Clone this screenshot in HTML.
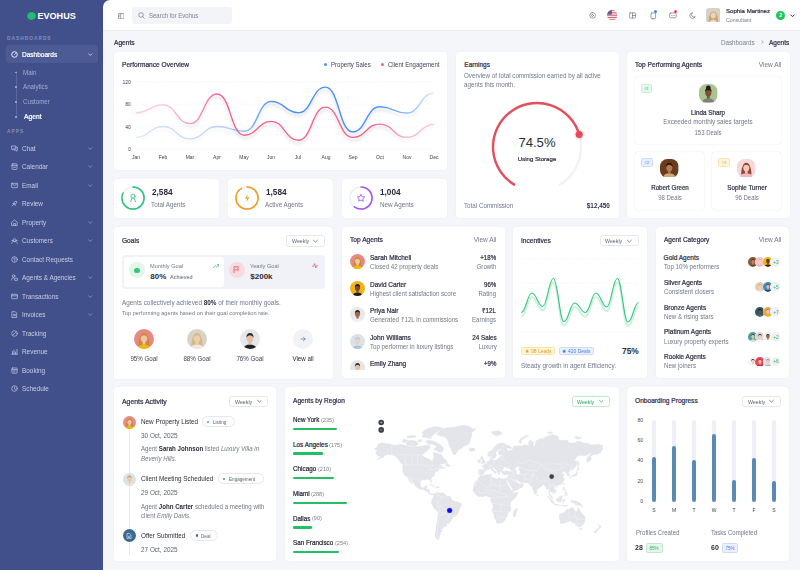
<!DOCTYPE html>
<html><head><meta charset="utf-8"><title>Evohus - Agents</title>
<style>
*{box-sizing:border-box;margin:0;padding:0}
html,body{width:800px;height:570px;overflow:hidden;background:#f5f6fa;font-family:"Liberation Sans",sans-serif;color:#2f3045}
.a{position:absolute}
.t{position:absolute;white-space:nowrap;line-height:1}
.b{font-weight:bold}
.B{font-weight:bold}
.sb{-webkit-text-stroke:.22px currentColor}
.r{text-align:right}
.card{position:absolute;background:#fff;border-radius:4px;box-shadow:0 0 2px rgba(40,50,90,.05);overflow:hidden}
#side{position:absolute;left:0;top:0;width:103px;height:570px;background:#41508a}
#side .sec{position:absolute;left:7px;font-size:4.8px;letter-spacing:1.02px;color:#858ec0;font-weight:bold;line-height:1}
#side .it{position:absolute;left:0;width:103px;height:12px}
#side .it svg.i{position:absolute;left:11px;top:2.5px;width:7px;height:7px}
#side .it .l{position:absolute;left:22.3px;top:3.5px;font-size:6.4px;line-height:1;color:#c8cde6;white-space:nowrap}
#side .it svg.c{position:absolute;left:88px;top:4.8px;width:4.5px;height:3px}
#side .sub{position:absolute;left:22.8px;font-size:6.2px;line-height:1;color:#a5acd2;white-space:nowrap}
#side .dot{position:absolute;left:15.2px;width:1.6px;height:1.6px;border-radius:50%;background:#a5acd2}
#hdr{position:absolute;left:103px;top:0;width:697px;height:31px;background:#fff;border-top-left-radius:7px;border-bottom:1px solid #eceef4}
.wk{position:absolute;border:0.6px solid #e3e5ec;border-radius:2.5px;background:#fff;font-size:4.8px;color:#5d6173;line-height:1}
.wk span{position:absolute;left:6px;top:3.2px}
.wk svg{position:absolute;right:5px;top:3.6px;width:4px;height:4px}
.gr{color:#6e7385}
.ttl{position:absolute;white-space:nowrap;line-height:1;font-weight:bold;font-size:6.1px;color:#2f3045}
</style></head>
<body>
<div id="side">
<svg class="a" style="left:27px;top:11.5px" width="9" height="8" viewBox="0 0 9 8"><ellipse cx="4.5" cy="4" rx="4.4" ry="3.9" fill="#1fb86a"/><path d="M1 5.5 L6 1 M2 7 L8 2 M4 7.6 L8.6 3.8" stroke="#3fd88a" stroke-width=".6" opacity=".6"/></svg>
<div class="t b" style="left:37.4px;top:12.2px;font-size:9.1px;color:#fff">EVOHUS</div>
<div class="sec" style="top:36.6px">DASHBOARDS</div>
<div class="a" style="left:6px;top:45.2px;width:92px;height:18.2px;background:#4d5b94;border-radius:3px"></div>
<svg class="a" style="left:11px;top:51px" width="7" height="7" viewBox="0 0 7 7"><circle cx="3.5" cy="3.5" r="2.8" fill="none" stroke="#fff" stroke-width=".9"/><path d="M3.5 3.6 L4.8 2.3" stroke="#fff" stroke-width=".9"/></svg>
<div class="t  sb" style="left:22.40px;top:52px;font-size:6.7px;transform:scaleX(0.9758);transform-origin:0 0;color:#fff">Dashboards</div>
<svg class="a" style="left:88px;top:52.5px" width="4.5" height="3" viewBox="0 0 4.5 3"><path d="M.4 .5 L2.25 2.4 L4.1 .5" fill="none" stroke="#eef0fa" stroke-width=".7"/></svg>
<div class="a" style="left:15.6px;top:71px;width:.6px;height:47px;background:#5b679e"></div>
<div class="dot" style="top:71.7px"></div>
<div class="t " style="left:22.80px;top:70px;font-size:6.8px;transform:scaleX(0.9118);transform-origin:0 0;color:#a5acd2">Main</div>
<div class="dot" style="top:86.2px"></div>
<div class="t " style="left:22.80px;top:84px;font-size:6.8px;transform:scaleX(0.9118);transform-origin:0 0;color:#a5acd2">Analytics</div>
<div class="dot" style="top:101.2px"></div>
<div class="t " style="left:22.80px;top:99px;font-size:6.8px;transform:scaleX(0.9118);transform-origin:0 0;color:#a5acd2">Customer</div>
<div class="dot" style="top:116.2px"></div>
<div class="t  sb" style="left:24.00px;top:114px;font-size:6.8px;transform:scaleX(0.9884);transform-origin:0 0;color:#fff">Agent</div>
<div class="sec" style="top:129.8px">APPS</div>
<div class="it" style="top:142.3px"><svg class="i" viewBox="0 0 7 7"><path d="M.8 1h4v3H2.5L1.4 5V4H.8z M4.8 2.2h1.6v3h-.6v1l-1.2-1H3.2V4" fill="none" stroke="#c3c9e6" stroke-width=".7" stroke-linejoin="round" stroke-linecap="round"/></svg><svg class="c" viewBox="0 0 4.5 3"><path d="M.4 .5 L2.25 2.4 L4.1 .5" fill="none" stroke="#aeb5d8" stroke-width=".6"/></svg></div>
<div class="t " style="left:22.30px;top:145px;font-size:7.0px;transform:scaleX(0.9143);transform-origin:0 0;color:#c8cde6">Chat</div>
<div class="it" style="top:160.6px"><svg class="i" viewBox="0 0 7 7"><rect x="1" y=".8" width="5" height="5.6" rx=".8" fill="none" stroke="#c3c9e6" stroke-width=".7" stroke-linejoin="round" stroke-linecap="round"/><path d="M1 2.4h5 M2.4 4.2h2.2" fill="none" stroke="#c3c9e6" stroke-width=".7" stroke-linejoin="round" stroke-linecap="round"/></svg><svg class="c" viewBox="0 0 4.5 3"><path d="M.4 .5 L2.25 2.4 L4.1 .5" fill="none" stroke="#aeb5d8" stroke-width=".6"/></svg></div>
<div class="t " style="left:22.30px;top:163px;font-size:7.0px;transform:scaleX(0.9143);transform-origin:0 0;color:#c8cde6">Calendar</div>
<div class="it" style="top:179.1px"><svg class="i" viewBox="0 0 7 7"><rect x=".6" y="1.3" width="5.8" height="4.4" rx=".3" fill="none" stroke="#c3c9e6" stroke-width=".7" stroke-linejoin="round" stroke-linecap="round"/><path d="M.8 1.6l2.7 2 2.7-2" fill="none" stroke="#c3c9e6" stroke-width=".7" stroke-linejoin="round" stroke-linecap="round"/></svg><svg class="c" viewBox="0 0 4.5 3"><path d="M.4 .5 L2.25 2.4 L4.1 .5" fill="none" stroke="#aeb5d8" stroke-width=".6"/></svg></div>
<div class="t " style="left:22.30px;top:182px;font-size:7.0px;transform:scaleX(0.9143);transform-origin:0 0;color:#c8cde6">Email</div>
<div class="it" style="top:197.6px"><svg class="i" viewBox="0 0 7 7"><path d="M1 6l1.5-1.5 M2 3.5l1.5 1.5 M3 2.5l2-1.5 1 1-1.5 2z M2.5 3.3l2.2 2.2" fill="none" stroke="#c3c9e6" stroke-width=".7" stroke-linejoin="round" stroke-linecap="round"/></svg></div>
<div class="t " style="left:22.30px;top:200px;font-size:7.0px;transform:scaleX(0.9143);transform-origin:0 0;color:#c8cde6">Review</div>
<div class="it" style="top:216.1px"><svg class="i" viewBox="0 0 7 7"><path d="M.8 3.2L3.5.9l2.7 2.3v3.2H.8z M2.6 6.4V4.5h1.8v1.9" fill="none" stroke="#c3c9e6" stroke-width=".7" stroke-linejoin="round" stroke-linecap="round"/></svg><svg class="c" viewBox="0 0 4.5 3"><path d="M.4 .5 L2.25 2.4 L4.1 .5" fill="none" stroke="#aeb5d8" stroke-width=".6"/></svg></div>
<div class="t " style="left:22.30px;top:219px;font-size:7.0px;transform:scaleX(0.9143);transform-origin:0 0;color:#c8cde6">Property</div>
<div class="it" style="top:234.6px"><svg class="i" viewBox="0 0 7 7"><path d="M2 3.2a1.5 1.5 0 1 1 3 0 1.5 1.5 0 1 1-3 0 M.6 6.2c.5-1.4 1.6-1.8 2.9-1.8s2.4.4 2.9 1.8 M.9 3.5h1.2 M4.9 3.5h1.2" fill="none" stroke="#c3c9e6" stroke-width=".7" stroke-linejoin="round" stroke-linecap="round"/></svg><svg class="c" viewBox="0 0 4.5 3"><path d="M.4 .5 L2.25 2.4 L4.1 .5" fill="none" stroke="#aeb5d8" stroke-width=".6"/></svg></div>
<div class="t " style="left:22.30px;top:237px;font-size:7.0px;transform:scaleX(0.9143);transform-origin:0 0;color:#c8cde6">Customers</div>
<div class="it" style="top:253.1px"><svg class="i" viewBox="0 0 7 7"><circle cx="3.5" cy="3.5" r="2.8" fill="none" stroke="#c3c9e6" stroke-width=".7" stroke-linejoin="round" stroke-linecap="round"/><path d="M2.7 2.8a.8.8 0 1 1 1 .8v.6 M3.6 5h.1" fill="none" stroke="#c3c9e6" stroke-width=".7" stroke-linejoin="round" stroke-linecap="round"/></svg></div>
<div class="t " style="left:22.30px;top:256px;font-size:7.0px;transform:scaleX(0.9143);transform-origin:0 0;color:#c8cde6">Contact Requests</div>
<div class="it" style="top:271.6px"><svg class="i" viewBox="0 0 7 7"><circle cx="2.6" cy="2" r="1.3" fill="none" stroke="#c3c9e6" stroke-width=".7" stroke-linejoin="round" stroke-linecap="round"/><path d="M.6 6c0-1.5.8-2.3 2-2.3 M4 4.2h2.4v2.2H4z" fill="none" stroke="#c3c9e6" stroke-width=".7" stroke-linejoin="round" stroke-linecap="round"/></svg><svg class="c" viewBox="0 0 4.5 3"><path d="M.4 .5 L2.25 2.4 L4.1 .5" fill="none" stroke="#aeb5d8" stroke-width=".6"/></svg></div>
<div class="t " style="left:22.30px;top:274px;font-size:7.0px;transform:scaleX(0.9143);transform-origin:0 0;color:#c8cde6">Agents &amp; Agencies</div>
<div class="it" style="top:290.1px"><svg class="i" viewBox="0 0 7 7"><rect x=".6" y="1.3" width="5.8" height="4.4" rx=".5" fill="none" stroke="#c3c9e6" stroke-width=".7" stroke-linejoin="round" stroke-linecap="round"/><path d="M.6 2.8h5.8" fill="none" stroke="#c3c9e6" stroke-width=".7" stroke-linejoin="round" stroke-linecap="round"/></svg><svg class="c" viewBox="0 0 4.5 3"><path d="M.4 .5 L2.25 2.4 L4.1 .5" fill="none" stroke="#aeb5d8" stroke-width=".6"/></svg></div>
<div class="t " style="left:22.30px;top:293px;font-size:7.0px;transform:scaleX(0.9143);transform-origin:0 0;color:#c8cde6">Transactions</div>
<div class="it" style="top:308.6px"><svg class="i" viewBox="0 0 7 7"><path d="M1.3.7h3l1.4 1.4v4.4H1.3z M2.5 3.4h2 M2.5 4.7h2" fill="none" stroke="#c3c9e6" stroke-width=".7" stroke-linejoin="round" stroke-linecap="round"/></svg><svg class="c" viewBox="0 0 4.5 3"><path d="M.4 .5 L2.25 2.4 L4.1 .5" fill="none" stroke="#aeb5d8" stroke-width=".6"/></svg></div>
<div class="t " style="left:22.30px;top:311px;font-size:7.0px;transform:scaleX(0.9143);transform-origin:0 0;color:#c8cde6">Invoices</div>
<div class="it" style="top:327.1px"><svg class="i" viewBox="0 0 7 7"><circle cx="3.5" cy="3.5" r="2.8" fill="none" stroke="#c3c9e6" stroke-width=".7" stroke-linejoin="round" stroke-linecap="round"/><path d="M2 5l3-3" fill="none" stroke="#c3c9e6" stroke-width=".7" stroke-linejoin="round" stroke-linecap="round"/></svg></div>
<div class="t " style="left:22.30px;top:330px;font-size:7.0px;transform:scaleX(0.9143);transform-origin:0 0;color:#c8cde6">Tracking</div>
<div class="it" style="top:345.6px"><svg class="i" viewBox="0 0 7 7"><path d="M.8 6.2h5.6 M1.5 6V3.5 M3 6V2 M4.5 6V4 M6 6V1.2" fill="none" stroke="#c3c9e6" stroke-width=".7" stroke-linejoin="round" stroke-linecap="round"/></svg></div>
<div class="t " style="left:22.30px;top:348px;font-size:7.0px;transform:scaleX(0.9143);transform-origin:0 0;color:#c8cde6">Revenue</div>
<div class="it" style="top:364.1px"><svg class="i" viewBox="0 0 7 7"><rect x=".9" y="1" width="5.2" height="5.2" rx=".6" fill="none" stroke="#c3c9e6" stroke-width=".7" stroke-linejoin="round" stroke-linecap="round"/><path d="M.9 2.6h5.2 M2.2 3.8h.1 M3.5 3.8h.1 M4.8 3.8h.1 M2.2 5h.1 M3.5 5h.1" fill="none" stroke="#c3c9e6" stroke-width=".7" stroke-linejoin="round" stroke-linecap="round"/></svg></div>
<div class="t " style="left:22.30px;top:367px;font-size:7.0px;transform:scaleX(0.9143);transform-origin:0 0;color:#c8cde6">Booking</div>
<div class="it" style="top:382.6px"><svg class="i" viewBox="0 0 7 7"><circle cx="3.5" cy="3.5" r="2.8" fill="none" stroke="#c3c9e6" stroke-width=".7" stroke-linejoin="round" stroke-linecap="round"/><path d="M3.5 2v1.6l1 .7" fill="none" stroke="#c3c9e6" stroke-width=".7" stroke-linejoin="round" stroke-linecap="round"/></svg></div>
<div class="t " style="left:22.30px;top:385px;font-size:7.0px;transform:scaleX(0.9143);transform-origin:0 0;color:#c8cde6">Schedule</div>
</div>
<div class="a" style="left:103px;top:0;width:10px;height:10px;background:#41508a"></div>
<div id="hdr"></div>
<svg class="a" style="left:117.5px;top:12.5px" width="6.5" height="6.5" viewBox="0 0 6.5 6.5"><rect x=".4" y=".6" width="5.7" height="5.3" rx=".6" fill="none" stroke="#6b6f80" stroke-width=".7"/><path d="M2.6 .6v5.3 M1.1 2.2h.8 M1.1 3.3h.8" stroke="#6b6f80" stroke-width=".6"/></svg>
<div class="a" style="left:131.5px;top:7px;width:100px;height:16.8px;background:#f3f4f8;border-radius:3px"></div>
<svg class="a" style="left:137.6px;top:12.2px" width="7" height="7" viewBox="0 0 7 7"><circle cx="3" cy="3" r="2.3" fill="none" stroke="#6b6f80" stroke-width=".65"/><path d="M4.7 4.7l1.6 1.6" stroke="#6b6f80" stroke-width=".65" stroke-linecap="round"/></svg>
<div class="t " style="left:148.80px;top:13px;font-size:6.5px;transform:scaleX(0.9231);transform-origin:0 0;color:#7b7f90">Search for Evohus</div>
<svg class="a" style="left:589px;top:12px" width="7" height="7" viewBox="0 0 7 7"><circle cx="3.5" cy="3.5" r="1" fill="none" stroke="#6b6f80" stroke-width=".65" stroke-linecap="round" stroke-linejoin="round"/><path d="M3.5.6l.8.4.9-.2.4.8.8.5-.1.9.4.8-.6.6-.1.9-.9.2-.5.7-.9-.2-.9.2-.5-.7-.9-.2-.1-.9-.6-.6.4-.8-.1-.9.8-.5.4-.8.9.2z" fill="none" stroke="#6b6f80" stroke-width=".65" stroke-linecap="round" stroke-linejoin="round"/></svg>
<svg class="a" style="left:607px;top:9.8px" width="10.5" height="10.5" viewBox="0 0 10 10"><defs><clipPath id="fc"><circle cx="5" cy="5" r="5"/></clipPath></defs><g clip-path="url(#fc)"><rect width="10" height="10" fill="#f4f4f6"/><g fill="#dc6070"><rect y="0" width="10" height="1.1"/><rect y="2.2" width="10" height="1.1"/><rect y="4.4" width="10" height="1.1"/><rect y="6.6" width="10" height="1.1"/><rect y="8.8" width="10" height="1.2"/></g><rect width="4.6" height="4.4" fill="#52609e"/></g></svg>
<svg class="a" style="left:629px;top:12px" width="7" height="7" viewBox="0 0 7 7"><rect x=".6" y=".9" width="5.8" height="5.2" rx=".5" fill="none" stroke="#6b6f80" stroke-width=".65" stroke-linecap="round" stroke-linejoin="round"/><path d="M3.5.9v5.2 M3.5 3.5h2.9" fill="none" stroke="#6b6f80" stroke-width=".65" stroke-linecap="round" stroke-linejoin="round"/></svg>
<svg class="a" style="left:649.5px;top:11.5px" width="7" height="8" viewBox="0 0 7 8"><rect x="1" y="1" width="4.6" height="5.4" rx=".6" fill="none" stroke="#6b6f80" stroke-width=".65" stroke-linecap="round" stroke-linejoin="round"/><path d="M2.8 6.4v1" fill="none" stroke="#6b6f80" stroke-width=".65" stroke-linecap="round" stroke-linejoin="round"/></svg>
<div class="a" style="left:653.6px;top:10.2px;width:3px;height:3px;border-radius:50%;background:#3b82f6"></div>
<svg class="a" style="left:668.5px;top:11.7px" width="8" height="7" viewBox="0 0 8 7"><rect x=".6" y="1" width="6.6" height="4.8" rx="1" fill="none" stroke="#6b6f80" stroke-width=".65" stroke-linecap="round" stroke-linejoin="round"/><path d="M2.6 3.5h.1 M4 3.5h.1 M5.3 3.5h.1" fill="none" stroke="#6b6f80" stroke-width=".65" stroke-linecap="round" stroke-linejoin="round"/></svg>
<div class="a" style="left:673.7px;top:10.2px;width:3px;height:3px;border-radius:50%;background:#ef4444"></div>
<svg class="a" style="left:688.5px;top:11.8px" width="7" height="7" viewBox="0 0 7 7"><path d="M3.2.8a2.8 2.8 0 1 0 3 3.6A2.3 2.3 0 0 1 3.2.8z" fill="none" stroke="#6b6f80" stroke-width=".65" stroke-linecap="round" stroke-linejoin="round"/></svg>
<svg class="a" style="left:705.5px;top:7.8px" width="14.6" height="14.6" viewBox="0 0 20 20"><defs><clipPath id="ua"><rect width="20" height="20" rx="4"/></clipPath></defs><g clip-path="url(#ua)"><rect width="20" height="20" fill="#d6d1c8"/><path d="M3.5 20c0-8 1.8-15 6.5-15s6.5 7 6.5 15z" fill="#c9a36a"/><ellipse cx="10" cy="10" rx="3.5" ry="4.4" fill="#f1d3bd"/><path d="M4.5 20c1-3 3-4 5.5-4s4.5 1 5.5 4z" fill="#e8dccd"/><path d="M6.2 9.5c0-3.5 1.6-5.2 3.8-5.2s3.8 1.7 3.8 5.2c-.5-1.6-1.8-3-3.8-3.1S6.7 7.9 6.2 9.5z" fill="#d9b57c"/></g></svg>
<div class="t  sb" style="left:725.80px;top:8px;font-size:6.2px;transform:scaleX(0.9841);transform-origin:0 0;color:#2f3045">Sophia Martinez</div>
<div class="t " style="left:725.80px;top:18px;font-size:5.7px;transform:scaleX(0.9298);transform-origin:0 0;color:#7b7f90">Consultant</div>
<div class="a" style="left:776.2px;top:10.5px;width:9px;height:9px;border-radius:50%;background:#22c55e;color:#fff;font-size:5px;font-weight:bold;line-height:9px;text-align:center">2</div>
<svg class="a" style="left:789.5px;top:13.6px" width="5" height="3.4" viewBox="0 0 5 3.4"><path d="M.5.6L2.5 2.7 4.5.6" fill="none" stroke="#333" stroke-width=".95"/></svg>
<div class="t  sb" style="left:114.00px;top:40px;font-size:6.6px;transform:scaleX(1.0061);transform-origin:0 0;color:#2f3045">Agents</div>
<div class="t " style="left:721.00px;top:40px;font-size:6.8px;transform:scaleX(0.9191);transform-origin:0 0;color:#7b7f90">Dashboards</div>
<svg class="a" style="left:760.5px;top:40.3px" width="3" height="4" viewBox="0 0 3 4"><path d="M.6.4L2.2 2 .6 3.6" fill="none" stroke="#7b7f90" stroke-width=".6"/></svg>
<div class="t  sb" style="left:769.40px;top:40px;font-size:6.5px;transform:scaleX(1.0048);transform-origin:0 0;color:#2f3045">Agents</div>
<div class="card" style="left:114px;top:52px;width:333.3px;height:117.69999999999999px"></div>
<div class="card" style="left:456px;top:52px;width:162.70000000000005px;height:166px"></div>
<div class="card" style="left:627px;top:52px;width:162.5px;height:166px"></div>
<div class="card" style="left:114px;top:178.8px;width:105.30000000000001px;height:39.69999999999999px"></div>
<div class="card" style="left:227.7px;top:178.8px;width:105.30000000000001px;height:39.69999999999999px"></div>
<div class="card" style="left:342px;top:178.8px;width:105.30000000000001px;height:39.69999999999999px"></div>
<div class="card" style="left:114px;top:227px;width:219px;height:151.7px"></div>
<div class="card" style="left:342px;top:227px;width:162.7px;height:150.7px"></div>
<div class="card" style="left:513px;top:227px;width:133.79999999999995px;height:150.7px"></div>
<div class="card" style="left:655.6px;top:227px;width:133.89999999999998px;height:150.7px"></div>
<div class="card" style="left:114px;top:387.4px;width:162.3px;height:174.0px"></div>
<div class="card" style="left:285px;top:387.4px;width:333.70000000000005px;height:174.0px"></div>
<div class="card" style="left:626.6px;top:387.4px;width:162.89999999999998px;height:174.0px"></div>
<div class="t  sb" style="left:121.90px;top:62px;font-size:6.7px;transform:scaleX(0.9863);transform-origin:0 0;">Performance Overview</div>
<div class="a" style="left:324px;top:63.1px;width:3px;height:3px;border-radius:50%;background:#4d91f7"></div>
<div class="t " style="left:330.80px;top:62px;font-size:6.5px;transform:scaleX(0.9308);transform-origin:0 0;color:#3d3f52">Property Sales</div>
<div class="a" style="left:381.1px;top:63.1px;width:3px;height:3px;border-radius:50%;background:#f0648c"></div>
<div class="t " style="left:387.50px;top:62px;font-size:6.5px;transform:scaleX(0.9308);transform-origin:0 0;color:#3d3f52">Client Engagement</div>
<div class="t " style="right:669.20px;top:80px;font-size:5.0px;color:#3d3f52">120</div>
<div class="t " style="right:669.20px;top:102px;font-size:5.0px;color:#3d3f52">80</div>
<div class="t " style="right:669.20px;top:125px;font-size:5.0px;color:#3d3f52">40</div>
<div class="t " style="right:669.20px;top:147px;font-size:5.0px;color:#3d3f52">0</div>
<div class="t " style="left:35.80px;width:200px;text-align:center;top:155px;font-size:5.4px;transform:scaleX(0.9259);transform-origin:50% 0;color:#3d3f52">Jan</div>
<div class="t " style="left:62.90px;width:200px;text-align:center;top:155px;font-size:5.4px;transform:scaleX(0.9259);transform-origin:50% 0;color:#3d3f52">Feb</div>
<div class="t " style="left:90.00px;width:200px;text-align:center;top:155px;font-size:5.4px;transform:scaleX(0.9259);transform-origin:50% 0;color:#3d3f52">Mar</div>
<div class="t " style="left:117.10px;width:200px;text-align:center;top:155px;font-size:5.4px;transform:scaleX(0.9259);transform-origin:50% 0;color:#3d3f52">Apr</div>
<div class="t " style="left:144.20px;width:200px;text-align:center;top:155px;font-size:5.4px;transform:scaleX(0.9259);transform-origin:50% 0;color:#3d3f52">May</div>
<div class="t " style="left:171.30px;width:200px;text-align:center;top:155px;font-size:5.4px;transform:scaleX(0.9259);transform-origin:50% 0;color:#3d3f52">Jun</div>
<div class="t " style="left:198.40px;width:200px;text-align:center;top:155px;font-size:5.4px;transform:scaleX(0.9259);transform-origin:50% 0;color:#3d3f52">Jul</div>
<div class="t " style="left:225.50px;width:200px;text-align:center;top:155px;font-size:5.4px;transform:scaleX(0.9259);transform-origin:50% 0;color:#3d3f52">Aug</div>
<div class="t " style="left:252.60px;width:200px;text-align:center;top:155px;font-size:5.4px;transform:scaleX(0.9259);transform-origin:50% 0;color:#3d3f52">Sep</div>
<div class="t " style="left:279.70px;width:200px;text-align:center;top:155px;font-size:5.4px;transform:scaleX(0.9259);transform-origin:50% 0;color:#3d3f52">Oct</div>
<div class="t " style="left:306.80px;width:200px;text-align:center;top:155px;font-size:5.4px;transform:scaleX(0.9259);transform-origin:50% 0;color:#3d3f52">Nov</div>
<div class="t " style="left:333.90px;width:200px;text-align:center;top:155px;font-size:5.4px;transform:scaleX(0.9259);transform-origin:50% 0;color:#3d3f52">Dec</div>
<svg class="a" style="left:114px;top:52px" width="334" height="118" viewBox="114 52 334 118"><defs><linearGradient id="gb" x1="135.8" x2="434" y1="0" y2="0" gradientUnits="userSpaceOnUse"><stop offset="0" stop-color="#4d91f7" stop-opacity=".22"/><stop offset=".3" stop-color="#4d91f7" stop-opacity=".4"/><stop offset=".4" stop-color="#4d91f7" stop-opacity=".75"/><stop offset=".47" stop-color="#4d91f7" stop-opacity="1"/><stop offset=".8" stop-color="#4d91f7" stop-opacity="1"/><stop offset=".9" stop-color="#4d91f7" stop-opacity=".65"/><stop offset="1" stop-color="#4d91f7" stop-opacity=".22"/></linearGradient><linearGradient id="gp" x1="135.8" x2="434" y1="0" y2="0" gradientUnits="userSpaceOnUse"><stop offset="0" stop-color="#f0648c" stop-opacity=".3"/><stop offset=".12" stop-color="#f0648c" stop-opacity=".4"/><stop offset=".2" stop-color="#f0648c" stop-opacity=".65"/><stop offset=".28" stop-color="#f0648c" stop-opacity="1"/><stop offset=".8" stop-color="#f0648c" stop-opacity="1"/><stop offset=".9" stop-color="#f0648c" stop-opacity=".5"/><stop offset="1" stop-color="#f0648c" stop-opacity=".3"/></linearGradient><filter id="sh" x="-5%" y="-20%" width="110%" height="150%"><feGaussianBlur in="SourceAlpha" stdDeviation="1.4"/><feOffset dy="3.2"/><feComponentTransfer><feFuncA type="linear" slope=".16"/></feComponentTransfer><feMerge><feMergeNode/><feMergeNode in="SourceGraphic"/></feMerge></filter></defs><line x1="135.8" x2="434.5" y1="81.8" y2="81.8" stroke="#e9ebf0" stroke-width=".5" stroke-dasharray="2 1.6"/><line x1="135.8" x2="434.5" y1="104.2" y2="104.2" stroke="#e9ebf0" stroke-width=".5" stroke-dasharray="2 1.6"/><line x1="135.8" x2="434.5" y1="126.8" y2="126.8" stroke="#e9ebf0" stroke-width=".5" stroke-dasharray="2 1.6"/><line x1="135.8" x2="434.5" y1="149.2" y2="149.2" stroke="#e9ebf0" stroke-width=".5" stroke-dasharray="2 1.6"/><path d="M135.80 112.75 C149.35 112.75 149.35 104.90 162.90 104.90 C176.45 104.90 176.45 123.63 190.00 123.63 C203.55 123.63 203.55 94.02 217.10 94.02 C230.65 94.02 230.65 135.18 244.20 135.18 C257.75 135.18 257.75 121.38 271.30 121.38 C284.85 121.38 284.85 140.23 298.40 140.23 C311.95 140.23 311.95 107.14 325.50 107.14 C339.05 107.14 339.05 137.42 352.60 137.42 C366.15 137.42 366.15 124.13 379.70 124.13 C393.25 124.13 393.25 137.42 406.80 137.42 C420.35 137.42 420.35 124.52 433.90 124.52" fill="none" stroke="url(#gp)" stroke-width="1.4" filter="url(#sh)"/><path d="M135.80 137.42 C149.35 137.42 149.35 126.43 162.90 126.43 C176.45 126.43 176.45 138.88 190.00 138.88 C203.55 138.88 203.55 126.43 217.10 126.43 C230.65 126.43 230.65 131.25 244.20 131.25 C257.75 131.25 257.75 101.53 271.30 101.53 C284.85 101.53 284.85 112.75 298.40 112.75 C311.95 112.75 311.95 87.12 325.50 87.12 C339.05 87.12 339.05 131.82 352.60 131.82 C366.15 131.82 366.15 106.80 379.70 106.80 C393.25 106.80 393.25 113.03 406.80 113.03 C420.35 113.03 420.35 93.12 433.90 93.12" fill="none" stroke="url(#gb)" stroke-width="1.4" filter="url(#sh)"/></svg>
<div class="t  sb" style="left:464.30px;top:62px;font-size:6.5px;">Earnings</div>
<div class="t " style="left:464.30px;top:73px;font-size:6.8px;transform:scaleX(0.9191);transform-origin:0 0;color:#72778a">Overview of total commission earned by all active</div>
<div class="t " style="left:464.30px;top:82px;font-size:6.8px;transform:scaleX(0.9191);transform-origin:0 0;color:#72778a">agents this month.</div>
<svg class="a" style="left:456px;top:52px" width="163" height="166" viewBox="456 52 163 166"><defs><filter id="dg" x="-1" y="-1" width="3" height="3"><feGaussianBlur stdDeviation=".8"/></filter></defs><path d="M515.00 185.11 A44 44 0 1 1 559.00 185.11" fill="none" stroke="#f0f1f6" stroke-width="2.3"/><path d="M515.00 185.11 A44 44 0 1 1 579.19 134.50" fill="none" stroke="#e44f5b" stroke-width="2.4"/><circle cx="579.19" cy="134.50" r="4.2" fill="#e34b58" opacity=".35" filter="url(#dg)"/><circle cx="579.19" cy="134.50" r="3.5" fill="#e34b58"/></svg>
<div class="t " style="left:437.00px;width:200px;text-align:center;top:136px;font-size:13.1px;color:#2b2c3a">74.5%</div>
<div class="t  sb" style="left:437.00px;width:200px;text-align:center;top:156px;font-size:6.2px;transform:scaleX(0.9835);transform-origin:50% 0;color:#2f3045">Using Storage</div>
<div class="t " style="left:464.10px;top:203px;font-size:6.8px;transform:scaleX(0.9191);transform-origin:0 0;color:#72778a">Total Commission</div>
<div class="t B" style="right:190.00px;top:203px;font-size:6.9px;transform:scaleX(0.9275);transform-origin:100% 0;">$12,450</div>
<div class="t  sb" style="left:635.40px;top:62px;font-size:6.6px;transform:scaleX(1.0050);transform-origin:0 0;">Top Performing Agents</div>
<div class="t " style="right:18.80px;top:61px;font-size:7.0px;transform:scaleX(0.9286);transform-origin:100% 0;color:#72778a">View All</div>
<div class="a" style="left:635.4px;top:77.4px;width:145.60000000000002px;height:66.6px;border-radius:3.5px;background:#fff;box-shadow:0 0 1.5px rgba(30,40,80,.16)"></div>
<div class="a" style="left:635.4px;top:152.3px;width:68.60000000000002px;height:57.29999999999998px;border-radius:3.5px;background:#fff;box-shadow:0 0 1.5px rgba(30,40,80,.16)"></div>
<div class="a" style="left:712.4px;top:152.3px;width:68.60000000000002px;height:57.29999999999998px;border-radius:3.5px;background:#fff;box-shadow:0 0 1.5px rgba(30,40,80,.16)"></div>
<div class="a" style="left:640.8px;top:83.7px;width:11.0px;height:8.899999999999991px;border-radius:1.5px;background:#e6f7ee;border:.5px solid #c9eed8;color:#2fb36b;font-size:4.2px;line-height:7.9px;text-align:center">#1</div>
<div class="a" style="left:640.8px;top:158.3px;width:11.900000000000091px;height:8.899999999999977px;border-radius:1.5px;background:#e7efff;border:.5px solid #cdddfb;color:#4d7fe0;font-size:4.2px;line-height:7.9px;text-align:center">#2</div>
<div class="a" style="left:718px;top:158.3px;width:12px;height:8.899999999999977px;border-radius:1.5px;background:#fff5df;border:.5px solid #fbe3b0;color:#e7a326;font-size:4.2px;line-height:7.9px;text-align:center">#3</div>
<svg class="a" style="left:699.00px;top:84.40px" width="18.6" height="18.6" viewBox="0 0 20 20"><defs><clipPath id="av1"><rect width="20" height="20" rx="8"/></clipPath></defs><g clip-path="url(#av1)"><rect width="20" height="20" fill="#a9c58f"/><path d="M3 21c.5-4 3.3-5.6 7-5.6s6.5 1.6 7 5.6z" fill="#e8e3dc"/><rect x="8.6" y="11.5" width="2.8" height="4" fill="#7a5038"/><ellipse cx="10" cy="9.3" rx="3.3" ry="3.9" fill="#7a5038"/><path d="M6.5 9c-.3-3.4 1.4-5 3.5-5s3.8 1.6 3.5 5c-.6-1.8-1.9-2.8-3.5-2.8S7.1 7.2 6.5 9z" fill="#1f1a17"/><path d="M3 21c.5-4 3.3-5.6 7-5.6s6.5 1.6 7 5.6z" fill="#2c2c2c" opacity=".55"/><circle cx="10" cy="4.3" r="2.6" fill="#1f1a17"/></g></svg>
<div class="t  sb" style="left:608.20px;width:200px;text-align:center;top:110px;font-size:6.4px;transform:scaleX(0.9877);transform-origin:50% 0;">Linda Sharp</div>
<div class="t " style="left:608.20px;width:200px;text-align:center;top:119px;font-size:6.8px;transform:scaleX(0.9265);transform-origin:50% 0;color:#72778a">Exceeded monthly sales targets</div>
<div class="t " style="left:608.20px;width:200px;text-align:center;top:130px;font-size:6.5px;transform:scaleX(0.9231);transform-origin:50% 0;color:#72778a">153 Deals</div>
<svg class="a" style="left:660.20px;top:158.90px" width="18.6" height="18.6" viewBox="0 0 20 20"><defs><clipPath id="av2"><rect width="20" height="20" rx="8"/></clipPath></defs><g clip-path="url(#av2)"><rect width="20" height="20" fill="#6b3b1d"/><path d="M3 21c.5-4 3.3-5.6 7-5.6s6.5 1.6 7 5.6z" fill="#cfa77c"/><rect x="8.6" y="11.5" width="2.8" height="4" fill="#b07a55"/><ellipse cx="10" cy="9.3" rx="3.3" ry="3.9" fill="#b07a55"/><path d="M6.5 9c-.3-3.4 1.4-5 3.5-5s3.8 1.6 3.5 5c-.6-1.8-1.9-2.8-3.5-2.8S7.1 7.2 6.5 9z" fill="#2a1a10"/></g></svg>
<div class="t  sb" style="left:569.70px;width:200px;text-align:center;top:185px;font-size:6.4px;transform:scaleX(0.9724);transform-origin:50% 0;">Robert Green</div>
<div class="t " style="left:569.70px;width:200px;text-align:center;top:195px;font-size:6.5px;transform:scaleX(0.9231);transform-origin:50% 0;color:#72778a">98 Deals</div>
<svg class="a" style="left:737.40px;top:158.90px" width="18.6" height="18.6" viewBox="0 0 20 20"><defs><clipPath id="av3"><rect width="20" height="20" rx="8"/></clipPath></defs><g clip-path="url(#av3)"><rect width="20" height="20" fill="#f7d7dc"/><path d="M4.5 17c0-7 1.5-12 5.5-12s5.5 5 5.5 12z" fill="#8a4a32"/><path d="M3 21c.5-4 3.3-5.6 7-5.6s6.5 1.6 7 5.6z" fill="#f3b6c3"/><rect x="8.6" y="11.5" width="2.8" height="4" fill="#f1c9b3"/><ellipse cx="10" cy="9.3" rx="3.3" ry="3.9" fill="#f1c9b3"/><path d="M6.5 9c-.3-3.4 1.4-5 3.5-5s3.8 1.6 3.5 5c-.6-1.8-1.9-2.8-3.5-2.8S7.1 7.2 6.5 9z" fill="#8a4a32"/></g></svg>
<div class="t  sb" style="left:646.70px;width:200px;text-align:center;top:185px;font-size:6.4px;transform:scaleX(0.9839);transform-origin:50% 0;">Sophie Turner</div>
<div class="t " style="left:646.70px;width:200px;text-align:center;top:195px;font-size:6.5px;transform:scaleX(0.9231);transform-origin:50% 0;color:#72778a">96 Deals</div>
<svg class="a" style="left:120.1px;top:185.4px" width="26" height="26" viewBox="0 0 26 26"><circle cx="13" cy="13" r="11.1" fill="none" stroke="#eef0f5" stroke-width="1.5"/><circle cx="13" cy="13" r="11.1" fill="none" stroke="#2ec27e" stroke-width="1.5" stroke-dasharray="57.19 69.74" transform="rotate(-90 13 13) " stroke-linecap="round"/><g fill="none" stroke="#2ec27e" stroke-width=".85" stroke-linecap="round"><circle cx="13" cy="11.2" r="2.1"/><path d="M10.5 16.8l1.5-3.6 M15.5 16.8L14 13.2"/></g></svg>
<div class="t B" style="left:151.80px;top:189px;font-size:8.2px;transform:scaleX(1.0061);transform-origin:0 0;color:#2b2c3a">2,584</div>
<div class="t " style="left:151.30px;top:202px;font-size:6.8px;transform:scaleX(0.9265);transform-origin:0 0;color:#72778a">Total Agents</div>
<svg class="a" style="left:234.3px;top:185.4px" width="26" height="26" viewBox="0 0 26 26"><circle cx="13" cy="13" r="11.1" fill="none" stroke="#eef0f5" stroke-width="1.5"/><circle cx="13" cy="13" r="11.1" fill="none" stroke="#f59a23" stroke-width="1.5" stroke-dasharray="63.47 69.74" transform="rotate(-90 13 13) " stroke-linecap="round"/><path d="M13.9 9l-3 4.6h2.4l-1.1 3.7 3.2-4.9h-2.4z" fill="#f59a23"/></svg>
<div class="t B" style="left:265.80px;top:189px;font-size:8.2px;transform:scaleX(1.0061);transform-origin:0 0;color:#2b2c3a">1,584</div>
<div class="t " style="left:265.30px;top:202px;font-size:6.8px;transform:scaleX(0.9265);transform-origin:0 0;color:#72778a">Active Agents</div>
<svg class="a" style="left:348.2px;top:185.4px" width="26" height="26" viewBox="0 0 26 26"><circle cx="13" cy="13" r="11.1" fill="none" stroke="#eef0f5" stroke-width="1.5"/><circle cx="13" cy="13" r="11.1" fill="none" stroke="#a855f7" stroke-width="1.5" stroke-dasharray="41.85 69.74" transform="rotate(-90 13 13) " stroke-linecap="round"/><path d="M13 9.3l1.15 2.3 2.5.35-1.8 1.75.45 2.5L13 15l-2.3 1.2.45-2.5-1.8-1.75 2.5-.35z" fill="none" stroke="#a855f7" stroke-width=".85" stroke-linejoin="round"/></svg>
<div class="t B" style="left:380.10px;top:189px;font-size:8.2px;transform:scaleX(1.0061);transform-origin:0 0;color:#2b2c3a">1,004</div>
<div class="t " style="left:379.60px;top:202px;font-size:6.8px;transform:scaleX(0.9265);transform-origin:0 0;color:#72778a">New Agents</div>
<div class="t  sb" style="left:122.00px;top:238px;font-size:6.7px;transform:scaleX(0.9843);transform-origin:0 0;">Goals</div>
<div class="a" style="left:286.4px;top:235.3px;width:38.200000000000045px;height:11.299999999999983px;border:.6px solid #e6e8ee;border-radius:2.5px;background:#fff"></div>
<div class="t " style="left:291.80px;top:239px;font-size:5.7px;transform:scaleX(0.9298);transform-origin:0 0;color:#5d6173">Weekly</div>
<svg class="a" style="left:312.90px;top:238.75px" width="4.8" height="4.4" viewBox="0 0 4.8 4.4"><path d="M.5 1.3L2.4 3.1 4.3 1.3" fill="none" stroke="#4a4e60" stroke-width=".7" stroke-linecap="round" stroke-linejoin="round"/></svg>
<div class="a" style="left:122px;top:255.2px;width:202.8px;height:33.6px;background:#f1f2f7;border-radius:3px"></div>
<div class="a" style="left:123.8px;top:256.9px;width:99.8px;height:30.5px;background:#fff;border-radius:2.5px;box-shadow:0 0 1px rgba(0,0,0,.06)"></div>
<div class="a" style="left:128.7px;top:261.8px;width:16.6px;height:16.6px;border-radius:50%;background:#e3f6ec"></div>
<div class="a" style="left:134.4px;top:267.5px;width:5.2px;height:5.2px;border-radius:50%;background:#3cc47c"></div>
<div class="t " style="left:150.30px;top:263px;font-size:6.0px;transform:scaleX(0.9333);transform-origin:0 0;color:#72778a">Monthly Goal</div>
<div class="t B" style="left:150.30px;top:273px;font-size:8.0px;color:#2b2c3a">80%</div>
<div class="t " style="left:169.80px;top:275px;font-size:5.9px;transform:scaleX(0.9322);transform-origin:0 0;color:#5d6173">Achieved</div>
<svg class="a" style="left:212.5px;top:263.8px" width="6.5" height="4.5" viewBox="0 0 6.5 4.5"><path d="M.4 3.8L2.4 1.8 3.7 3 6 .8 M4.3.7H6v1.6" fill="none" stroke="#2fb36b" stroke-width=".7" stroke-linecap="round" stroke-linejoin="round"/></svg>
<div class="a" style="left:228.5px;top:261.8px;width:16.6px;height:16.6px;border-radius:50%;background:#f8dbe0"></div>
<svg class="a" style="left:233.4px;top:266.3px" width="7" height="7.5" viewBox="0 0 7 7.5"><path d="M1 7V.8h4.6L4.6 2.4l1 1.6H1" fill="none" stroke="#e04f5f" stroke-width=".75" stroke-linejoin="round"/></svg>
<div class="t " style="left:250.30px;top:263px;font-size:6.0px;transform:scaleX(0.9333);transform-origin:0 0;color:#72778a">Yearly Goal</div>
<div class="t B" style="left:250.30px;top:273px;font-size:8.0px;color:#2b2c3a">$200k</div>
<svg class="a" style="left:311.7px;top:263.2px" width="6.2" height="5.5" viewBox="0 0 6.2 5.5"><path d="M.4 3.2h1.2L2.6.6l1.2 4.4L4.8 2.4h1.1" fill="none" stroke="#e04f5f" stroke-width=".7" stroke-linecap="round" stroke-linejoin="round"/></svg>
<div class="t " style="left:122.00px;top:300px;font-size:6.9px;transform:scaleX(0.9275);transform-origin:0 0;color:#72778a">Agents collectively achieved <b style="color:#2b2c3a">80%</b> of their monthly goals.</div>
<div class="t " style="left:122.00px;top:310px;font-size:6.1px;transform:scaleX(0.9262);transform-origin:0 0;color:#72778a">Top performing agents based on their goal completion rate.</div>
<svg class="a" style="left:134.00px;top:328.60px" width="20" height="20" viewBox="0 0 20 20"><defs><clipPath id="av4"><circle cx="10" cy="10" r="10"/></clipPath></defs><g clip-path="url(#av4)"><rect width="20" height="20" fill="#e88a84"/><path d="M4.5 17c0-7 1.5-12 5.5-12s5.5 5 5.5 12z" fill="#c98a3a"/><path d="M3 21c.5-4 3.3-5.6 7-5.6s6.5 1.6 7 5.6z" fill="#f5b800"/><rect x="8.6" y="11.5" width="2.8" height="4" fill="#f0c4a5"/><ellipse cx="10" cy="9.3" rx="3.3" ry="3.9" fill="#f0c4a5"/><path d="M6.5 9c-.3-3.4 1.4-5 3.5-5s3.8 1.6 3.5 5c-.6-1.8-1.9-2.8-3.5-2.8S7.1 7.2 6.5 9z" fill="#c98a3a"/></g></svg>
<div class="t " style="left:44.00px;width:200px;text-align:center;top:356px;font-size:6.7px;transform:scaleX(0.9254);transform-origin:50% 0;color:#3d3f52">95% Goal</div>
<svg class="a" style="left:186.80px;top:328.60px" width="20" height="20" viewBox="0 0 20 20"><defs><clipPath id="av5"><circle cx="10" cy="10" r="10"/></clipPath></defs><g clip-path="url(#av5)"><rect width="20" height="20" fill="#d9d2c7"/><path d="M4.5 17c0-7 1.5-12 5.5-12s5.5 5 5.5 12z" fill="#d8b888"/><path d="M3 21c.5-4 3.3-5.6 7-5.6s6.5 1.6 7 5.6z" fill="#efe8df"/><rect x="8.6" y="11.5" width="2.8" height="4" fill="#f0ccb0"/><ellipse cx="10" cy="9.3" rx="3.3" ry="3.9" fill="#f0ccb0"/><path d="M6.5 9c-.3-3.4 1.4-5 3.5-5s3.8 1.6 3.5 5c-.6-1.8-1.9-2.8-3.5-2.8S7.1 7.2 6.5 9z" fill="#d8b888"/></g></svg>
<div class="t " style="left:96.80px;width:200px;text-align:center;top:356px;font-size:6.7px;transform:scaleX(0.9254);transform-origin:50% 0;color:#3d3f52">88% Goal</div>
<svg class="a" style="left:240.00px;top:328.60px" width="20" height="20" viewBox="0 0 20 20"><defs><clipPath id="av6"><circle cx="10" cy="10" r="10"/></clipPath></defs><g clip-path="url(#av6)"><rect width="20" height="20" fill="#e6e7ea"/><path d="M3 21c.5-4 3.3-5.6 7-5.6s6.5 1.6 7 5.6z" fill="#1d2430"/><rect x="8.6" y="11.5" width="2.8" height="4" fill="#e6c0a2"/><ellipse cx="10" cy="9.3" rx="3.3" ry="3.9" fill="#e6c0a2"/><path d="M6.5 9c-.3-3.4 1.4-5 3.5-5s3.8 1.6 3.5 5c-.6-1.8-1.9-2.8-3.5-2.8S7.1 7.2 6.5 9z" fill="#2b2420"/></g></svg>
<div class="t " style="left:150.00px;width:200px;text-align:center;top:356px;font-size:6.7px;transform:scaleX(0.9254);transform-origin:50% 0;color:#3d3f52">76% Goal</div>
<div class="a" style="left:292.6px;top:328.6px;width:20px;height:20px;border-radius:50%;background:#f1f2f7"></div>
<svg class="a" style="left:299.6px;top:335.6px" width="6" height="6" viewBox="0 0 6 6"><path d="M.8 3h4.4 M3.4 1.2L5.2 3 3.4 4.8" fill="none" stroke="#555a6e" stroke-width=".6" stroke-linecap="round" stroke-linejoin="round"/></svg>
<div class="t " style="left:202.60px;width:200px;text-align:center;top:356px;font-size:6.7px;transform:scaleX(0.9254);transform-origin:50% 0;color:#1f2030">View all</div>
<div class="t  sb" style="left:350.00px;top:237px;font-size:6.6px;transform:scaleX(1.0064);transform-origin:0 0;">Top Agents</div>
<div class="t " style="right:303.60px;top:236px;font-size:7.0px;transform:scaleX(0.9286);transform-origin:100% 0;color:#72778a">View All</div>
<div class="a" style="left:342px;top:227px;width:163px;height:142.5px;overflow:hidden">
<svg class="a" style="left:8.00px;top:27.20px" width="15" height="15" viewBox="0 0 20 20"><defs><clipPath id="av7"><circle cx="10" cy="10" r="10"/></clipPath></defs><g clip-path="url(#av7)"><rect width="20" height="20" fill="#e88a84"/><path d="M4.5 17c0-7 1.5-12 5.5-12s5.5 5 5.5 12z" fill="#c98a3a"/><path d="M3 21c.5-4 3.3-5.6 7-5.6s6.5 1.6 7 5.6z" fill="#f5b800"/><rect x="8.6" y="11.5" width="2.8" height="4" fill="#f0c4a5"/><ellipse cx="10" cy="9.3" rx="3.3" ry="3.9" fill="#f0c4a5"/><path d="M6.5 9c-.3-3.4 1.4-5 3.5-5s3.8 1.6 3.5 5c-.6-1.8-1.9-2.8-3.5-2.8S7.1 7.2 6.5 9z" fill="#c98a3a"/></g></svg>
<svg class="a" style="left:8.00px;top:53.75px" width="15" height="15" viewBox="0 0 20 20"><defs><clipPath id="av8"><circle cx="10" cy="10" r="10"/></clipPath></defs><g clip-path="url(#av8)"><rect width="20" height="20" fill="#f2b21b"/><path d="M3 21c.5-4 3.3-5.6 7-5.6s6.5 1.6 7 5.6z" fill="#1d1d1d"/><rect x="8.6" y="11.5" width="2.8" height="4" fill="#7a4a2c"/><ellipse cx="10" cy="9.3" rx="3.3" ry="3.9" fill="#7a4a2c"/><path d="M6.5 9c-.3-3.4 1.4-5 3.5-5s3.8 1.6 3.5 5c-.6-1.8-1.9-2.8-3.5-2.8S7.1 7.2 6.5 9z" fill="#1d1613"/></g></svg>
<svg class="a" style="left:8.00px;top:80.30px" width="15" height="15" viewBox="0 0 20 20"><defs><clipPath id="av9"><circle cx="10" cy="10" r="10"/></clipPath></defs><g clip-path="url(#av9)"><rect width="20" height="20" fill="#e8e8e8"/><path d="M3 21c.5-4 3.3-5.6 7-5.6s6.5 1.6 7 5.6z" fill="#f2f2f2"/><rect x="8.6" y="11.5" width="2.8" height="4" fill="#9c6a4a"/><ellipse cx="10" cy="9.3" rx="3.3" ry="3.9" fill="#9c6a4a"/><path d="M6.5 9c-.3-3.4 1.4-5 3.5-5s3.8 1.6 3.5 5c-.6-1.8-1.9-2.8-3.5-2.8S7.1 7.2 6.5 9z" fill="#2a201a"/></g></svg>
<svg class="a" style="left:8.00px;top:106.85px" width="15" height="15" viewBox="0 0 20 20"><defs><clipPath id="av10"><circle cx="10" cy="10" r="10"/></clipPath></defs><g clip-path="url(#av10)"><rect width="20" height="20" fill="#d9e2ea"/><path d="M3 21c.5-4 3.3-5.6 7-5.6s6.5 1.6 7 5.6z" fill="#a9c4dd"/><rect x="8.6" y="11.5" width="2.8" height="4" fill="#e8d2c4"/><ellipse cx="10" cy="9.3" rx="3.3" ry="3.9" fill="#e8d2c4"/><path d="M6.5 9c-.3-3.4 1.4-5 3.5-5s3.8 1.6 3.5 5c-.6-1.8-1.9-2.8-3.5-2.8S7.1 7.2 6.5 9z" fill="#c9c9c9"/></g></svg>
<svg class="a" style="left:8.00px;top:133.40px" width="15" height="15" viewBox="0 0 20 20"><defs><clipPath id="av11"><circle cx="10" cy="10" r="10"/></clipPath></defs><g clip-path="url(#av11)"><rect width="20" height="20" fill="#e6e6e6"/><path d="M3 21c.5-4 3.3-5.6 7-5.6s6.5 1.6 7 5.6z" fill="#ffffff"/><rect x="8.6" y="11.5" width="2.8" height="4" fill="#e8c0a2"/><ellipse cx="10" cy="9.3" rx="3.3" ry="3.9" fill="#e8c0a2"/><path d="M6.5 9c-.3-3.4 1.4-5 3.5-5s3.8 1.6 3.5 5c-.6-1.8-1.9-2.8-3.5-2.8S7.1 7.2 6.5 9z" fill="#3a2a20"/></g></svg>
</div>
<div class="t  sb" style="left:370.00px;top:255px;font-size:6.6px;transform:scaleX(0.9890);transform-origin:0 0;">Sarah Mitchell</div>
<div class="t  sb" style="right:303.60px;top:255px;font-size:6.6px;transform:scaleX(0.9242);transform-origin:100% 0;">+18%</div>
<div class="t " style="left:370.00px;top:264px;font-size:6.6px;transform:scaleX(0.9318);transform-origin:0 0;color:#72778a">Closed 42 property deals</div>
<div class="t " style="right:303.60px;top:264px;font-size:6.6px;transform:scaleX(0.9242);transform-origin:100% 0;color:#72778a">Growth</div>
<div class="t  sb" style="left:370.00px;top:282px;font-size:6.6px;transform:scaleX(0.9793);transform-origin:0 0;">David Carter</div>
<div class="t  sb" style="right:303.60px;top:282px;font-size:6.6px;transform:scaleX(0.9242);transform-origin:100% 0;">96%</div>
<div class="t " style="left:370.00px;top:291px;font-size:6.6px;transform:scaleX(0.9318);transform-origin:0 0;color:#72778a">Highest client satisfaction score</div>
<div class="t " style="right:303.60px;top:291px;font-size:6.6px;transform:scaleX(0.9242);transform-origin:100% 0;color:#72778a">Rating</div>
<div class="t  sb" style="left:370.00px;top:308px;font-size:6.6px;transform:scaleX(0.9832);transform-origin:0 0;">Priya Nair</div>
<div class="t  sb" style="right:303.60px;top:308px;font-size:6.6px;transform:scaleX(0.9451);transform-origin:100% 0;">₹12L</div>
<div class="t " style="left:370.00px;top:317px;font-size:6.6px;transform:scaleX(0.9318);transform-origin:0 0;color:#72778a">Generated ₹12L in commissions</div>
<div class="t " style="right:303.60px;top:317px;font-size:6.6px;transform:scaleX(0.9242);transform-origin:100% 0;color:#72778a">Earnings</div>
<div class="t  sb" style="left:370.00px;top:335px;font-size:6.6px;transform:scaleX(1.0061);transform-origin:0 0;">John Williams</div>
<div class="t  sb" style="right:303.60px;top:335px;font-size:6.6px;transform:scaleX(0.9508);transform-origin:100% 0;">24 Sales</div>
<div class="t " style="left:370.00px;top:344px;font-size:6.6px;transform:scaleX(0.9318);transform-origin:0 0;color:#72778a">Top performer in luxury listings</div>
<div class="t " style="right:303.60px;top:344px;font-size:6.6px;transform:scaleX(0.9242);transform-origin:100% 0;color:#72778a">Luxury</div>
<div class="t  sb" style="left:370.00px;top:361px;font-size:6.6px;transform:scaleX(0.9887);transform-origin:0 0;">Emily Zhang</div>
<div class="t  sb" style="right:303.60px;top:361px;font-size:6.6px;transform:scaleX(0.9242);transform-origin:100% 0;">+9%</div>
<div class="t  sb" style="left:521.30px;top:238px;font-size:6.6px;transform:scaleX(1.0040);transform-origin:0 0;">Incentives</div>
<div class="a" style="left:600px;top:235.3px;width:38.799999999999955px;height:11.0px;border:.6px solid #e6e8ee;border-radius:2.5px;background:#fff"></div>
<div class="t " style="left:605.40px;top:239px;font-size:5.7px;transform:scaleX(0.9298);transform-origin:0 0;color:#5d6173">Weekly</div>
<svg class="a" style="left:627.10px;top:238.60px" width="4.8" height="4.4" viewBox="0 0 4.8 4.4"><path d="M.5 1.3L2.4 3.1 4.3 1.3" fill="none" stroke="#4a4e60" stroke-width=".7" stroke-linecap="round" stroke-linejoin="round"/></svg>
<svg class="a" style="left:513px;top:250px" width="134" height="90" viewBox="513 250 134 90"><defs><filter id="gs" x="-5%" y="-20%" width="110%" height="150%"><feGaussianBlur stdDeviation=".5"/></filter></defs><line x1="521.3" x2="638.8" y1="259" y2="259" stroke="#e6e8ee" stroke-width=".5" stroke-dasharray="1.6 1.6"/><line x1="521.3" x2="638.8" y1="283.3" y2="283.3" stroke="#e6e8ee" stroke-width=".5" stroke-dasharray="1.6 1.6"/><line x1="521.3" x2="638.8" y1="307.4" y2="307.4" stroke="#e6e8ee" stroke-width=".5" stroke-dasharray="1.6 1.6"/><line x1="521.3" x2="638.8" y1="332.1" y2="332.1" stroke="#e6e8ee" stroke-width=".5" stroke-dasharray="1.6 1.6"/><path d="M521.30 316.50 C525.78 316.50 527.49 297.00 531.97 297.00 C536.45 297.00 538.16 310.50 542.64 310.50 C547.12 310.50 548.83 282.50 553.31 282.50 C557.79 282.50 559.50 325.50 563.98 325.50 C568.46 325.50 570.17 307.00 574.65 307.00 C579.13 307.00 580.84 316.50 585.32 316.50 C589.80 316.50 591.51 297.00 595.99 297.00 C600.47 297.00 602.18 311.00 606.66 311.00 C611.14 311.00 612.85 282.50 617.33 282.50 C621.81 282.50 623.52 326.00 628.00 326.00 C632.48 326.00 634.19 306.50 638.67 306.50" fill="none" stroke="#cdf2de" stroke-width="2.2" filter="url(#gs)"/><path d="M521.30 312.50 C525.78 312.50 527.49 293.00 531.97 293.00 C536.45 293.00 538.16 306.50 542.64 306.50 C547.12 306.50 548.83 278.50 553.31 278.50 C557.79 278.50 559.50 321.50 563.98 321.50 C568.46 321.50 570.17 303.00 574.65 303.00 C579.13 303.00 580.84 312.50 585.32 312.50 C589.80 312.50 591.51 293.00 595.99 293.00 C600.47 293.00 602.18 307.00 606.66 307.00 C611.14 307.00 612.85 278.50 617.33 278.50 C621.81 278.50 623.52 322.00 628.00 322.00 C632.48 322.00 634.19 302.50 638.67 302.50" fill="none" stroke="#34c77b" stroke-width="1.1"/></svg>
<div class="a" style="left:521.3px;top:346.5px;width:33.40000000000009px;height:8.899999999999977px;background:#fff6e0;border:.5px solid #fde3a3;border-radius:1.8px"></div>
<svg class="a" style="left:524.50px;top:348.75px" width="4.4" height="4.4" viewBox="0 0 10 10"><path d="M5 .5l1.4 2.9 3.1.4-2.3 2.2.6 3.1L5 7.6 2.2 9.1l.6-3.1L.5 3.8l3.1-.4z" fill="#f0a30a"/></svg>
<div class="t " style="left:530.80px;top:349px;font-size:5.4px;transform:scaleX(0.9259);transform-origin:0 0;color:#e39a12">98 Leads</div>
<div class="a" style="left:558.5px;top:346.5px;width:35.39999999999998px;height:8.899999999999977px;background:#e9f0ff;border:.5px solid #cddcfb;border-radius:1.8px"></div>
<svg class="a" style="left:561.70px;top:348.75px" width="4.4" height="4.4" viewBox="0 0 10 10"><path d="M5 .5l1.4 2.9 3.1.4-2.3 2.2.6 3.1L5 7.6 2.2 9.1l.6-3.1L.5 3.8l3.1-.4z" fill="#3b76e8"/></svg>
<div class="t " style="left:568.00px;top:349px;font-size:5.4px;transform:scaleX(0.9259);transform-origin:0 0;color:#4d7fe0">420 Deals</div>
<div class="t B" style="right:161.20px;top:347px;font-size:8.4px;color:#2b2c3a">75%</div>
<div class="t " style="left:521.30px;top:363px;font-size:6.9px;transform:scaleX(0.9203);transform-origin:0 0;color:#72778a">Steady growth in agent Efficiency.</div>
<div class="t  sb" style="left:663.60px;top:237px;font-size:6.6px;transform:scaleX(0.9903);transform-origin:0 0;">Agent Category</div>
<div class="t " style="right:18.80px;top:236px;font-size:7.0px;transform:scaleX(0.9286);transform-origin:100% 0;color:#72778a">View All</div>
<div class="t  sb" style="left:663.60px;top:255px;font-size:6.5px;">Gold Agents</div>
<div class="t " style="left:663.60px;top:264px;font-size:6.6px;transform:scaleX(0.9318);transform-origin:0 0;color:#72778a">Top 10% performers</div>
<div class="a" style="left:747.30px;top:256.70px;width:10.8px;height:10.8px;border-radius:50%;background:#fff"></div>
<svg class="a" style="left:747.80px;top:257.20px" width="9.8" height="9.8" viewBox="0 0 20 20"><defs><clipPath id="av12"><circle cx="10" cy="10" r="10"/></clipPath></defs><g clip-path="url(#av12)"><rect width="20" height="20" fill="#8a5a3a"/><path d="M3 21c.5-4 3.3-5.6 7-5.6s6.5 1.6 7 5.6z" fill="#6a4a30"/><rect x="8.6" y="11.5" width="2.8" height="4" fill="#c08a66"/><ellipse cx="10" cy="9.3" rx="3.3" ry="3.9" fill="#c08a66"/><path d="M6.5 9c-.3-3.4 1.4-5 3.5-5s3.8 1.6 3.5 5c-.6-1.8-1.9-2.8-3.5-2.8S7.1 7.2 6.5 9z" fill="#4a2a18"/></g></svg>
<div class="a" style="left:754.90px;top:256.70px;width:10.8px;height:10.8px;border-radius:50%;background:#fff"></div>
<svg class="a" style="left:755.40px;top:257.20px" width="9.8" height="9.8" viewBox="0 0 20 20"><defs><clipPath id="av13"><circle cx="10" cy="10" r="10"/></clipPath></defs><g clip-path="url(#av13)"><rect width="20" height="20" fill="#f4c6c9"/><path d="M3 21c.5-4 3.3-5.6 7-5.6s6.5 1.6 7 5.6z" fill="#f1b8c0"/><rect x="8.6" y="11.5" width="2.8" height="4" fill="#f3d0bf"/><ellipse cx="10" cy="9.3" rx="3.3" ry="3.9" fill="#f3d0bf"/><path d="M6.5 9c-.3-3.4 1.4-5 3.5-5s3.8 1.6 3.5 5c-.6-1.8-1.9-2.8-3.5-2.8S7.1 7.2 6.5 9z" fill="#e6b9a0"/></g></svg>
<div class="a" style="left:762.50px;top:256.70px;width:10.8px;height:10.8px;border-radius:50%;background:#fff"></div>
<svg class="a" style="left:763.00px;top:257.20px" width="9.8" height="9.8" viewBox="0 0 20 20"><defs><clipPath id="av14"><circle cx="10" cy="10" r="10"/></clipPath></defs><g clip-path="url(#av14)"><rect width="20" height="20" fill="#f5b400"/><path d="M3 21c.5-4 3.3-5.6 7-5.6s6.5 1.6 7 5.6z" fill="#1d1d1d"/><rect x="8.6" y="11.5" width="2.8" height="4" fill="#6a4028"/><ellipse cx="10" cy="9.3" rx="3.3" ry="3.9" fill="#6a4028"/><path d="M6.5 9c-.3-3.4 1.4-5 3.5-5s3.8 1.6 3.5 5c-.6-1.8-1.9-2.8-3.5-2.8S7.1 7.2 6.5 9z" fill="#1a1410"/></g></svg>
<div class="a" style="left:770.10px;top:256.70px;width:10.8px;height:10.8px;border-radius:50%;background:#fff"></div>
<div class="a" style="left:770.60px;top:257.20px;width:9.8px;height:9.8px;border-radius:50%;background:#eff1f5"></div>
<div class="t " style="left:675.50px;width:200px;text-align:center;top:260px;font-size:5.2px;transform:scaleX(0.9231);transform-origin:50% 0;color:#2fb36b">+3</div>
<div class="t  sb" style="left:663.60px;top:280px;font-size:6.5px;transform:scaleX(1.0049);transform-origin:0 0;">Silver Agents</div>
<div class="t " style="left:663.60px;top:289px;font-size:6.6px;transform:scaleX(0.9318);transform-origin:0 0;color:#72778a">Consistent closers</div>
<div class="a" style="left:754.90px;top:281.55px;width:10.8px;height:10.8px;border-radius:50%;background:#fff"></div>
<svg class="a" style="left:755.40px;top:282.05px" width="9.8" height="9.8" viewBox="0 0 20 20"><defs><clipPath id="av15"><circle cx="10" cy="10" r="10"/></clipPath></defs><g clip-path="url(#av15)"><rect width="20" height="20" fill="#e0cdb8"/><path d="M3 21c.5-4 3.3-5.6 7-5.6s6.5 1.6 7 5.6z" fill="#e8e0d6"/><rect x="8.6" y="11.5" width="2.8" height="4" fill="#f0cdb5"/><ellipse cx="10" cy="9.3" rx="3.3" ry="3.9" fill="#f0cdb5"/><path d="M6.5 9c-.3-3.4 1.4-5 3.5-5s3.8 1.6 3.5 5c-.6-1.8-1.9-2.8-3.5-2.8S7.1 7.2 6.5 9z" fill="#d2a574"/></g></svg>
<div class="a" style="left:762.50px;top:281.55px;width:10.8px;height:10.8px;border-radius:50%;background:#fff"></div>
<svg class="a" style="left:763.00px;top:282.05px" width="9.8" height="9.8" viewBox="0 0 20 20"><defs><clipPath id="av16"><circle cx="10" cy="10" r="10"/></clipPath></defs><g clip-path="url(#av16)"><rect width="20" height="20" fill="#3a8dc8"/><path d="M3 21c.5-4 3.3-5.6 7-5.6s6.5 1.6 7 5.6z" fill="#3e3e3e"/><rect x="8.6" y="11.5" width="2.8" height="4" fill="#e0b89a"/><ellipse cx="10" cy="9.3" rx="3.3" ry="3.9" fill="#e0b89a"/><path d="M6.5 9c-.3-3.4 1.4-5 3.5-5s3.8 1.6 3.5 5c-.6-1.8-1.9-2.8-3.5-2.8S7.1 7.2 6.5 9z" fill="#6a4a30"/></g></svg>
<div class="a" style="left:770.10px;top:281.55px;width:10.8px;height:10.8px;border-radius:50%;background:#fff"></div>
<div class="a" style="left:770.60px;top:282.05px;width:9.8px;height:9.8px;border-radius:50%;background:#eff1f5"></div>
<div class="t " style="left:675.50px;width:200px;text-align:center;top:285px;font-size:5.2px;transform:scaleX(0.9231);transform-origin:50% 0;color:#2fb36b">+5</div>
<div class="t  sb" style="left:663.60px;top:305px;font-size:6.5px;transform:scaleX(0.9961);transform-origin:0 0;">Bronze Agents</div>
<div class="t " style="left:663.60px;top:314px;font-size:6.6px;transform:scaleX(0.9318);transform-origin:0 0;color:#72778a">New &amp; rising stars</div>
<div class="a" style="left:754.90px;top:306.40px;width:10.8px;height:10.8px;border-radius:50%;background:#fff"></div>
<svg class="a" style="left:755.40px;top:306.90px" width="9.8" height="9.8" viewBox="0 0 20 20"><defs><clipPath id="av17"><circle cx="10" cy="10" r="10"/></clipPath></defs><g clip-path="url(#av17)"><rect width="20" height="20" fill="#2a5a6a"/><path d="M3 21c.5-4 3.3-5.6 7-5.6s6.5 1.6 7 5.6z" fill="#3a7a8a"/><rect x="8.6" y="11.5" width="2.8" height="4" fill="#7a4a2c"/><ellipse cx="10" cy="9.3" rx="3.3" ry="3.9" fill="#7a4a2c"/><path d="M6.5 9c-.3-3.4 1.4-5 3.5-5s3.8 1.6 3.5 5c-.6-1.8-1.9-2.8-3.5-2.8S7.1 7.2 6.5 9z" fill="#1a1410"/></g></svg>
<div class="a" style="left:762.50px;top:306.40px;width:10.8px;height:10.8px;border-radius:50%;background:#fff"></div>
<svg class="a" style="left:763.00px;top:306.90px" width="9.8" height="9.8" viewBox="0 0 20 20"><defs><clipPath id="av18"><circle cx="10" cy="10" r="10"/></clipPath></defs><g clip-path="url(#av18)"><rect width="20" height="20" fill="#e9a25a"/><path d="M3 21c.5-4 3.3-5.6 7-5.6s6.5 1.6 7 5.6z" fill="#f5b800"/><rect x="8.6" y="11.5" width="2.8" height="4" fill="#f0c6a8"/><ellipse cx="10" cy="9.3" rx="3.3" ry="3.9" fill="#f0c6a8"/><path d="M6.5 9c-.3-3.4 1.4-5 3.5-5s3.8 1.6 3.5 5c-.6-1.8-1.9-2.8-3.5-2.8S7.1 7.2 6.5 9z" fill="#c98a3a"/></g></svg>
<div class="a" style="left:770.10px;top:306.40px;width:10.8px;height:10.8px;border-radius:50%;background:#fff"></div>
<div class="a" style="left:770.60px;top:306.90px;width:9.8px;height:9.8px;border-radius:50%;background:#eff1f5"></div>
<div class="t " style="left:675.50px;width:200px;text-align:center;top:310px;font-size:5.2px;transform:scaleX(0.9231);transform-origin:50% 0;color:#2fb36b">+7</div>
<div class="t  sb" style="left:663.60px;top:329px;font-size:6.5px;transform:scaleX(1.0030);transform-origin:0 0;">Platinum Agents</div>
<div class="t " style="left:663.60px;top:339px;font-size:6.6px;transform:scaleX(0.9318);transform-origin:0 0;color:#72778a">Luxury property experts</div>
<div class="a" style="left:747.30px;top:331.25px;width:10.8px;height:10.8px;border-radius:50%;background:#fff"></div>
<svg class="a" style="left:747.80px;top:331.75px" width="9.8" height="9.8" viewBox="0 0 20 20"><defs><clipPath id="av19"><circle cx="10" cy="10" r="10"/></clipPath></defs><g clip-path="url(#av19)"><rect width="20" height="20" fill="#4aa3a0"/><path d="M3 21c.5-4 3.3-5.6 7-5.6s6.5 1.6 7 5.6z" fill="#d8e2e8"/><rect x="8.6" y="11.5" width="2.8" height="4" fill="#e7c4a6"/><ellipse cx="10" cy="9.3" rx="3.3" ry="3.9" fill="#e7c4a6"/><path d="M6.5 9c-.3-3.4 1.4-5 3.5-5s3.8 1.6 3.5 5c-.6-1.8-1.9-2.8-3.5-2.8S7.1 7.2 6.5 9z" fill="#5a3a28"/></g></svg>
<div class="a" style="left:754.90px;top:331.25px;width:10.8px;height:10.8px;border-radius:50%;background:#fff"></div>
<svg class="a" style="left:755.40px;top:331.75px" width="9.8" height="9.8" viewBox="0 0 20 20"><defs><clipPath id="av20"><circle cx="10" cy="10" r="10"/></clipPath></defs><g clip-path="url(#av20)"><rect width="20" height="20" fill="#d8d8d8"/><path d="M3 21c.5-4 3.3-5.6 7-5.6s6.5 1.6 7 5.6z" fill="#ffffff"/><rect x="8.6" y="11.5" width="2.8" height="4" fill="#f0cdb5"/><ellipse cx="10" cy="9.3" rx="3.3" ry="3.9" fill="#f0cdb5"/><path d="M6.5 9c-.3-3.4 1.4-5 3.5-5s3.8 1.6 3.5 5c-.6-1.8-1.9-2.8-3.5-2.8S7.1 7.2 6.5 9z" fill="#2a2020"/></g></svg>
<div class="a" style="left:762.50px;top:331.25px;width:10.8px;height:10.8px;border-radius:50%;background:#fff"></div>
<svg class="a" style="left:763.00px;top:331.75px" width="9.8" height="9.8" viewBox="0 0 20 20"><defs><clipPath id="av21"><circle cx="10" cy="10" r="10"/></clipPath></defs><g clip-path="url(#av21)"><rect width="20" height="20" fill="#eeeeee"/><path d="M3 21c.5-4 3.3-5.6 7-5.6s6.5 1.6 7 5.6z" fill="#ffffff"/><rect x="8.6" y="11.5" width="2.8" height="4" fill="#a06a48"/><ellipse cx="10" cy="9.3" rx="3.3" ry="3.9" fill="#a06a48"/><path d="M6.5 9c-.3-3.4 1.4-5 3.5-5s3.8 1.6 3.5 5c-.6-1.8-1.9-2.8-3.5-2.8S7.1 7.2 6.5 9z" fill="#1a1410"/></g></svg>
<div class="a" style="left:770.10px;top:331.25px;width:10.8px;height:10.8px;border-radius:50%;background:#fff"></div>
<div class="a" style="left:770.60px;top:331.75px;width:9.8px;height:9.8px;border-radius:50%;background:#eff1f5"></div>
<div class="t " style="left:675.50px;width:200px;text-align:center;top:335px;font-size:5.2px;transform:scaleX(0.9231);transform-origin:50% 0;color:#2fb36b">+2</div>
<div class="t  sb" style="left:663.60px;top:354px;font-size:6.5px;transform:scaleX(0.9968);transform-origin:0 0;">Rookie Agents</div>
<div class="t " style="left:663.60px;top:363px;font-size:6.6px;transform:scaleX(0.9318);transform-origin:0 0;color:#72778a">New joiners</div>
<div class="a" style="left:747.30px;top:356.10px;width:10.8px;height:10.8px;border-radius:50%;background:#fff"></div>
<svg class="a" style="left:747.80px;top:356.60px" width="9.8" height="9.8" viewBox="0 0 20 20"><defs><clipPath id="av22"><circle cx="10" cy="10" r="10"/></clipPath></defs><g clip-path="url(#av22)"><rect width="20" height="20" fill="#f5f5f5"/><path d="M3 21c.5-4 3.3-5.6 7-5.6s6.5 1.6 7 5.6z" fill="#ffffff"/><rect x="8.6" y="11.5" width="2.8" height="4" fill="#f0cdb5"/><ellipse cx="10" cy="9.3" rx="3.3" ry="3.9" fill="#f0cdb5"/><path d="M6.5 9c-.3-3.4 1.4-5 3.5-5s3.8 1.6 3.5 5c-.6-1.8-1.9-2.8-3.5-2.8S7.1 7.2 6.5 9z" fill="#3a2a20"/></g></svg>
<div class="a" style="left:754.90px;top:356.10px;width:10.8px;height:10.8px;border-radius:50%;background:#fff"></div>
<svg class="a" style="left:755.40px;top:356.60px" width="9.8" height="9.8" viewBox="0 0 20 20"><defs><clipPath id="av23"><circle cx="10" cy="10" r="10"/></clipPath></defs><g clip-path="url(#av23)"><rect width="20" height="20" fill="#e84a5a"/><path d="M3 21c.5-4 3.3-5.6 7-5.6s6.5 1.6 7 5.6z" fill="#c02a3a"/><rect x="8.6" y="11.5" width="2.8" height="4" fill="#e9c2a5"/><ellipse cx="10" cy="9.3" rx="3.3" ry="3.9" fill="#e9c2a5"/><path d="M6.5 9c-.3-3.4 1.4-5 3.5-5s3.8 1.6 3.5 5c-.6-1.8-1.9-2.8-3.5-2.8S7.1 7.2 6.5 9z" fill="#c02a3a"/></g></svg>
<div class="a" style="left:762.50px;top:356.10px;width:10.8px;height:10.8px;border-radius:50%;background:#fff"></div>
<svg class="a" style="left:763.00px;top:356.60px" width="9.8" height="9.8" viewBox="0 0 20 20"><defs><clipPath id="av24"><circle cx="10" cy="10" r="10"/></clipPath></defs><g clip-path="url(#av24)"><rect width="20" height="20" fill="#dfe6ee"/><path d="M3 21c.5-4 3.3-5.6 7-5.6s6.5 1.6 7 5.6z" fill="#a8bdd6"/><rect x="8.6" y="11.5" width="2.8" height="4" fill="#f0cdb5"/><ellipse cx="10" cy="9.3" rx="3.3" ry="3.9" fill="#f0cdb5"/><path d="M6.5 9c-.3-3.4 1.4-5 3.5-5s3.8 1.6 3.5 5c-.6-1.8-1.9-2.8-3.5-2.8S7.1 7.2 6.5 9z" fill="#9a8a7a"/></g></svg>
<div class="a" style="left:770.10px;top:356.10px;width:10.8px;height:10.8px;border-radius:50%;background:#fff"></div>
<div class="a" style="left:770.60px;top:356.60px;width:9.8px;height:9.8px;border-radius:50%;background:#eff1f5"></div>
<div class="t " style="left:675.50px;width:200px;text-align:center;top:359px;font-size:5.2px;transform:scaleX(0.9231);transform-origin:50% 0;color:#2fb36b">+6</div>
<div class="t  sb" style="left:122.30px;top:399px;font-size:6.7px;transform:scaleX(1.0305);transform-origin:0 0;">Agents Activity</div>
<div class="a" style="left:229.3px;top:396px;width:39.0px;height:10.699999999999989px;border:.6px solid #e6e8ee;border-radius:2.5px;background:#fff"></div>
<div class="t " style="left:234.70px;top:400px;font-size:5.7px;transform:scaleX(0.9298);transform-origin:0 0;color:#5d6173">Weekly</div>
<svg class="a" style="left:256.60px;top:399.15px" width="4.8" height="4.4" viewBox="0 0 4.8 4.4"><path d="M.5 1.3L2.4 3.1 4.3 1.3" fill="none" stroke="#4a4e60" stroke-width=".7" stroke-linecap="round" stroke-linejoin="round"/></svg>
<div class="a" style="left:128.6px;top:429px;width:.6px;height:44px;background:#e6e8ee"></div>
<div class="a" style="left:128.6px;top:486px;width:.6px;height:43px;background:#e6e8ee"></div>
<div class="a" style="left:128.6px;top:543px;width:.6px;height:12px;background:#e6e8ee"></div>
<svg class="a" style="left:122.50px;top:415.80px" width="13" height="13" viewBox="0 0 20 20"><defs><clipPath id="av25"><circle cx="10" cy="10" r="10"/></clipPath></defs><g clip-path="url(#av25)"><rect width="20" height="20" fill="#e88a84"/><path d="M4.5 17c0-7 1.5-12 5.5-12s5.5 5 5.5 12z" fill="#c98a3a"/><path d="M3 21c.5-4 3.3-5.6 7-5.6s6.5 1.6 7 5.6z" fill="#f5b800"/><rect x="8.6" y="11.5" width="2.8" height="4" fill="#f0c4a5"/><ellipse cx="10" cy="9.3" rx="3.3" ry="3.9" fill="#f0c4a5"/><path d="M6.5 9c-.3-3.4 1.4-5 3.5-5s3.8 1.6 3.5 5c-.6-1.8-1.9-2.8-3.5-2.8S7.1 7.2 6.5 9z" fill="#c98a3a"/></g></svg>
<div class="t " style="left:140.70px;top:419px;font-size:6.9px;transform:scaleX(0.9203);transform-origin:0 0;color:#2b2c3a">New Property Listed</div>
<div class="a" style="left:201.7px;top:416px;width:33.30000000000001px;height:11.300000000000011px;border:.6px solid #e6e8ee;border-radius:6px;background:#fff"></div>
<div class="a" style="left:207.30px;top:420.55px;width:2.2px;height:2.2px;border-radius:50%;background:#2ec27e"></div>
<div class="t " style="left:213.00px;top:420px;font-size:5.0px;transform:scaleX(0.9200);transform-origin:0 0;color:#5d6173">Listing</div>
<div class="t " style="left:140.70px;top:433px;font-size:6.9px;transform:scaleX(0.9275);transform-origin:0 0;color:#5d6173">30 Oct, 2025</div>
<div class="t " style="left:140.70px;top:446px;font-size:6.6px;transform:scaleX(0.9318);transform-origin:0 0;color:#72778a">Agent <b style="color:#2b2c3a">Sarah Johnson</b> listed <i>Luxury Villa in</i></div>
<div class="t " style="left:140.70px;top:456px;font-size:6.6px;transform:scaleX(0.9318);transform-origin:0 0;color:#72778a"><i>Beverly Hills.</i></div>
<svg class="a" style="left:122.50px;top:472.50px" width="13" height="13" viewBox="0 0 20 20"><defs><clipPath id="av26"><circle cx="10" cy="10" r="10"/></clipPath></defs><g clip-path="url(#av26)"><rect width="20" height="20" fill="#d8e4dc"/><path d="M3 21c.5-4 3.3-5.6 7-5.6s6.5 1.6 7 5.6z" fill="#e8e0d6"/><rect x="8.6" y="11.5" width="2.8" height="4" fill="#e9c8ae"/><ellipse cx="10" cy="9.3" rx="3.3" ry="3.9" fill="#e9c8ae"/><path d="M6.5 9c-.3-3.4 1.4-5 3.5-5s3.8 1.6 3.5 5c-.6-1.8-1.9-2.8-3.5-2.8S7.1 7.2 6.5 9z" fill="#b8a48a"/></g></svg>
<div class="t " style="left:140.70px;top:476px;font-size:6.9px;transform:scaleX(0.9203);transform-origin:0 0;color:#2b2c3a">Client Meeting Scheduled</div>
<div class="a" style="left:217.7px;top:473px;width:46.60000000000002px;height:11.300000000000011px;border:.6px solid #e6e8ee;border-radius:6px;background:#fff"></div>
<div class="a" style="left:223.30px;top:477.55px;width:2.2px;height:2.2px;border-radius:50%;background:#3b82f6"></div>
<div class="t " style="left:229.00px;top:477px;font-size:5.0px;transform:scaleX(0.9200);transform-origin:0 0;color:#5d6173">Engagement</div>
<div class="t " style="left:140.70px;top:490px;font-size:6.9px;transform:scaleX(0.9275);transform-origin:0 0;color:#5d6173">29 Oct, 2025</div>
<div class="t " style="left:140.70px;top:504px;font-size:6.6px;transform:scaleX(0.9318);transform-origin:0 0;color:#72778a">Agent <b style="color:#2b2c3a">John Carter</b> scheduled a meeting with</div>
<div class="t " style="left:140.70px;top:513px;font-size:6.6px;transform:scaleX(0.9318);transform-origin:0 0;color:#72778a">client <i>Emily Davis.</i></div>
<div class="a" style="left:122.5px;top:529.2px;width:13px;height:13px;border-radius:50%;background:#3a6b94"></div>
<svg class="a" style="left:126px;top:532.6px" width="6" height="6.2" viewBox="0 0 6 6.2"><path d="M1 .5h2.6L5 1.9v3.8H1z M2 3.3h2 M2 4.5h2" fill="none" stroke="#fff" stroke-width=".55" stroke-linejoin="round"/></svg>
<div class="t " style="left:140.70px;top:533px;font-size:6.9px;transform:scaleX(0.9203);transform-origin:0 0;color:#2b2c3a">Offer Submitted</div>
<div class="a" style="left:190px;top:529.8px;width:27.69999999999999px;height:11.300000000000068px;border:.6px solid #e6e8ee;border-radius:6px;background:#fff"></div>
<div class="a" style="left:195.60px;top:534.35px;width:2.2px;height:2.2px;border-radius:50%;background:#3a6b94"></div>
<div class="t " style="left:201.30px;top:534px;font-size:5.0px;transform:scaleX(0.9200);transform-origin:0 0;color:#5d6173">Deal</div>
<div class="t " style="left:140.70px;top:547px;font-size:6.9px;transform:scaleX(0.9275);transform-origin:0 0;color:#5d6173">27 Oct, 2025</div>
<div class="t  sb" style="left:293.00px;top:398px;font-size:6.6px;transform:scaleX(0.9952);transform-origin:0 0;">Agents by Region</div>
<div class="a" style="left:571.5px;top:396px;width:38.799999999999955px;height:11.199999999999989px;border:.6px solid #bfe9cf;border-radius:2.5px;background:#fff"></div>
<div class="t " style="left:576.70px;top:400px;font-size:5.7px;transform:scaleX(0.9298);transform-origin:0 0;color:#22a55a">Weekly</div>
<svg class="a" style="left:598.60px;top:399.40px" width="4.8" height="4.4" viewBox="0 0 4.8 4.4"><path d="M.5 1.3L2.4 3.1 4.3 1.3" fill="none" stroke="#22a55a" stroke-width=".7" stroke-linecap="round" stroke-linejoin="round"/></svg>
<div class="t  sb" style="left:293.00px;top:417px;font-size:6.4px;transform:scaleX(0.9743);transform-origin:0 0;color:#2b2c3a">New York</div>
<div class="t " style="left:320.84px;top:417px;font-size:6.0px;transform:scaleX(0.9333);transform-origin:0 0;color:#7b7f90">(235)</div>
<div class="a" style="left:293px;top:427.60px;width:44.4px;height:2.4px;border-radius:1.2px;background:#22c063"></div>
<div class="t  sb" style="left:293.00px;top:442px;font-size:6.4px;color:#2b2c3a">Los Angeles</div>
<div class="t " style="left:329.36px;top:442px;font-size:6.0px;transform:scaleX(0.9333);transform-origin:0 0;color:#7b7f90">(175)</div>
<div class="a" style="left:293px;top:452.25px;width:29.7px;height:2.4px;border-radius:1.2px;background:#22c063"></div>
<div class="t  sb" style="left:293.00px;top:466px;font-size:6.4px;transform:scaleX(0.9912);transform-origin:0 0;color:#2b2c3a">Chicago</div>
<div class="t " style="left:317.77px;top:466px;font-size:6.0px;transform:scaleX(0.9333);transform-origin:0 0;color:#7b7f90">(210)</div>
<div class="a" style="left:293px;top:476.90px;width:40.9px;height:2.4px;border-radius:1.2px;background:#22c063"></div>
<div class="t  sb" style="left:293.00px;top:491px;font-size:6.4px;transform:scaleX(0.9798);transform-origin:0 0;color:#2b2c3a">Miami</div>
<div class="t " style="left:311.22px;top:491px;font-size:6.0px;transform:scaleX(0.9333);transform-origin:0 0;color:#7b7f90">(288)</div>
<div class="a" style="left:293px;top:501.55px;width:53.8px;height:2.4px;border-radius:1.2px;background:#22c063"></div>
<div class="t  sb" style="left:293.00px;top:516px;font-size:6.4px;transform:scaleX(0.9774);transform-origin:0 0;color:#2b2c3a">Dallas</div>
<div class="t " style="left:311.88px;top:515px;font-size:6.0px;transform:scaleX(0.9333);transform-origin:0 0;color:#7b7f90">(90)</div>
<div class="a" style="left:293px;top:526.20px;width:18.5px;height:2.4px;border-radius:1.2px;background:#22c063"></div>
<div class="t  sb" style="left:293.00px;top:540px;font-size:6.4px;transform:scaleX(0.9859);transform-origin:0 0;color:#2b2c3a">San Francisco</div>
<div class="t " style="left:334.83px;top:540px;font-size:6.0px;transform:scaleX(0.9333);transform-origin:0 0;color:#7b7f90">(254)</div>
<div class="a" style="left:293px;top:550.85px;width:46.0px;height:2.4px;border-radius:1.2px;background:#22c063"></div>
<svg class="a" style="left:370px;top:415px" width="245" height="135" viewBox="370 415 245 135"><path d="M374.0 449.1 L376.7 447.6 L378.6 443.8 L381.9 442.6 L385.8 443.6 L391.8 444.5 L395.0 445.3 L400.3 444.2 L405.6 445.3 L408.8 446.5 L413.4 446.5 L418.7 446.5 L422.0 445.9 L425.3 445.3 L428.6 444.7 L430.5 447.6 L427.2 450.8 L424.6 452.9 L422.6 454.8 L423.3 456.3 L426.6 458.2 L430.5 459.6 L432.5 462.3 L432.5 460.0 L433.8 457.7 L433.2 454.8 L433.5 452.3 L436.4 452.9 L439.1 453.9 L441.7 454.8 L442.4 456.8 L444.3 458.7 L445.6 459.6 L447.6 461.8 L445.0 463.6 L441.0 464.0 L438.4 466.1 L441.7 465.3 L442.4 467.3 L444.3 467.3 L445.0 467.8 L442.4 468.6 L441.0 468.6 L438.4 469.4 L438.4 470.8 L435.8 471.7 L434.5 473.3 L434.5 475.5 L432.5 477.0 L431.2 478.5 L431.5 481.0 L431.6 482.9 L430.7 482.0 L429.9 480.3 L428.9 479.6 L426.6 479.3 L425.3 480.1 L422.6 479.8 L420.5 481.1 L420.3 483.1 L420.2 485.2 L421.3 487.2 L422.3 487.8 L424.6 487.4 L424.9 485.9 L427.2 485.5 L426.9 487.9 L426.3 489.3 L429.2 489.4 L429.7 489.9 L429.4 492.6 L430.5 493.9 L432.2 493.6 L433.5 494.3 L433.2 494.9 L431.8 495.1 L430.9 494.7 L428.1 493.3 L427.9 492.3 L426.9 491.3 L424.3 490.6 L422.6 489.3 L421.0 489.5 L418.0 488.2 L415.1 486.2 L415.1 484.8 L412.5 482.0 L410.5 479.6 L409.2 478.5 L410.7 480.6 L412.2 484.6 L410.8 483.2 L409.3 481.0 L407.5 477.8 L406.5 476.6 L405.2 476.2 L403.9 474.0 L402.9 471.8 L402.6 469.8 L402.9 467.2 L402.5 465.4 L403.6 464.8 L402.3 464.0 L400.6 463.1 L399.0 460.0 L397.0 457.7 L395.0 456.3 L392.4 455.0 L389.8 454.8 L387.5 454.1 L384.9 455.5 L383.2 457.4 L380.6 458.2 L378.0 459.6 L376.2 460.1 L379.3 457.7 L380.9 456.2 L378.0 456.2 L376.3 454.4 L375.7 452.3 L376.3 451.5 L378.6 450.3 L376.0 450.3Z M436.4 433.9 L441.0 429.4 L445.0 427.9 L454.8 427.1 L463.4 425.3 L469.9 426.6 L472.6 428.7 L476.5 428.7 L471.9 432.4 L471.6 436.6 L470.6 439.2 L469.9 442.4 L468.6 444.2 L464.0 446.2 L461.4 448.7 L458.8 449.2 L456.8 452.3 L455.5 454.8 L452.9 453.9 L451.5 450.8 L450.6 448.1 L449.3 445.9 L448.6 443.0 L447.0 438.6 L443.7 436.6 L439.7 435.9Z M443.7 448.1 L442.4 451.8 L439.7 452.7 L437.1 450.8 L435.1 450.3 L433.2 449.7 L436.4 447.0 L435.1 445.3 L431.8 444.2 L428.6 444.2 L425.3 441.1 L428.6 439.9 L433.2 440.9 L437.8 443.3 L440.4 444.7Z M406.9 445.3 L415.4 445.9 L418.7 444.2 L416.1 441.1 L409.5 440.1 L406.2 442.4Z M424.0 436.6 L431.8 436.2 L435.1 433.2 L443.0 427.9 L435.1 426.3 L425.3 429.4 L422.0 432.4Z M422.0 437.3 L431.8 438.6 L430.5 435.9 L422.0 435.3Z M402.3 442.4 L405.6 442.6 L408.2 439.9 L402.9 438.9Z M406.9 438.0 L415.4 437.6 L415.4 435.3 L407.5 435.9Z M418.0 441.8 L421.3 442.0 L422.0 439.5 L418.0 439.9Z M433.5 494.3 L434.8 492.9 L437.1 492.1 L437.4 492.7 L439.7 492.9 L442.4 492.9 L444.0 492.9 L445.0 494.3 L447.0 495.9 L449.6 496.2 L450.9 497.2 L451.5 498.7 L451.5 499.9 L452.9 500.5 L455.2 501.5 L457.5 501.8 L459.4 502.8 L461.4 503.5 L461.4 505.8 L459.8 508.1 L458.8 511.5 L458.1 513.5 L456.8 515.2 L454.8 515.9 L452.5 517.7 L452.2 519.2 L450.9 520.9 L449.6 522.9 L448.3 523.8 L446.6 523.8 L447.0 525.3 L446.3 526.4 L443.7 526.8 L443.3 528.4 L441.7 529.1 L442.0 531.5 L440.1 532.8 L441.0 534.0 L439.4 536.1 L439.4 537.9 L438.4 538.8 L439.4 540.1 L437.1 539.2 L435.5 537.4 L434.8 534.0 L435.8 530.7 L436.1 527.6 L436.1 525.3 L437.4 521.6 L437.4 518.0 L438.2 514.5 L438.2 512.0 L435.8 510.1 L434.3 508.8 L433.2 506.4 L432.2 504.8 L431.1 503.5 L431.8 501.8 L431.5 500.5 L431.8 499.2 L432.6 498.7 L433.5 497.2 L433.6 495.6Z M472.9 490.1 L473.6 486.9 L473.6 485.2 L474.5 483.8 L475.9 481.3 L478.0 479.7 L478.2 477.8 L480.1 476.3 L480.5 475.3 L483.1 475.8 L485.1 474.8 L487.7 474.5 L491.0 474.2 L491.6 475.5 L491.3 477.0 L494.3 477.9 L497.2 479.3 L497.9 477.8 L500.8 478.2 L503.8 478.8 L505.6 478.6 L506.9 478.6 L507.1 479.9 L505.8 479.6 L507.4 483.8 L508.8 485.9 L509.7 487.9 L510.4 489.6 L512.8 491.6 L513.6 492.9 L518.0 492.1 L517.9 493.0 L516.9 495.6 L515.6 497.2 L512.7 500.5 L510.8 501.8 L510.2 503.8 L510.5 506.1 L511.0 506.8 L511.0 510.1 L507.4 513.8 L507.7 515.9 L505.9 517.2 L505.8 519.1 L504.4 520.9 L502.5 522.7 L500.8 523.1 L498.9 523.2 L497.5 523.6 L496.5 523.1 L496.2 521.2 L495.2 519.1 L494.4 517.7 L493.9 514.9 L492.2 511.3 L492.3 508.8 L493.3 507.1 L492.4 503.8 L490.3 500.5 L490.8 497.7 L490.0 496.9 L488.0 497.0 L486.4 495.7 L485.1 495.9 L483.1 496.7 L481.4 496.4 L479.5 497.0 L478.2 496.4 L476.8 495.4 L475.7 493.9 L474.5 492.7 L473.4 491.6Z M516.8 507.8 L517.6 510.1 L516.9 511.1 L515.4 516.5 L514.0 516.9 L513.0 515.2 L513.3 513.1 L513.6 510.6 L515.3 509.8Z M478.5 474.4 L478.6 470.6 L478.4 469.6 L483.2 469.4 L483.6 467.3 L482.8 466.3 L481.4 465.3 L483.4 465.1 L485.4 463.8 L487.0 462.7 L487.7 461.1 L490.0 460.7 L490.1 459.1 L489.8 457.7 L491.3 457.1 L491.3 458.2 L492.6 460.0 L493.6 460.5 L496.6 459.8 L498.2 458.8 L498.5 457.3 L500.2 457.4 L500.5 455.4 L502.8 455.2 L503.8 454.8 L501.8 454.4 L499.2 454.8 L498.5 453.4 L498.4 451.6 L501.0 449.7 L500.8 448.9 L499.2 448.9 L498.2 450.2 L496.9 451.3 L495.9 452.6 L495.8 454.3 L496.9 454.9 L496.2 455.8 L495.2 457.7 L493.9 458.8 L492.9 459.2 L492.5 457.9 L491.6 456.0 L489.7 456.7 L488.2 456.2 L487.7 453.9 L488.0 452.3 L490.0 451.3 L492.3 449.7 L493.9 447.0 L494.9 445.9 L496.9 444.4 L499.8 443.2 L502.8 443.0 L504.8 443.8 L506.1 445.0 L508.1 445.3 L511.3 446.9 L511.7 448.3 L509.7 448.7 L507.1 448.0 L506.4 448.7 L507.7 450.4 L508.7 451.0 L511.0 450.2 L513.0 448.3 L513.3 446.0 L514.6 446.2 L519.2 445.5 L522.5 445.9 L523.8 444.7 L527.1 445.0 L529.4 446.1 L528.1 443.2 L529.7 440.5 L532.0 440.8 L532.0 443.0 L533.7 441.5 L533.3 445.9 L535.0 445.9 L535.6 441.4 L537.3 439.9 L541.6 438.6 L540.9 439.5 L546.8 436.6 L552.7 434.3 L554.7 435.5 L558.0 436.1 L559.0 439.9 L562.6 440.5 L567.2 439.9 L569.2 442.7 L570.5 443.0 L575.7 442.4 L577.7 440.8 L583.0 442.4 L584.3 443.1 L588.9 443.2 L590.2 444.7 L594.1 444.7 L596.1 444.2 L600.0 444.4 L602.7 445.4 L602.7 449.7 L601.7 450.3 L601.0 452.3 L598.1 453.9 L596.1 454.8 L593.5 454.6 L591.8 455.3 L590.8 457.0 L591.5 458.5 L590.7 460.0 L589.5 461.4 L588.5 461.8 L587.2 463.0 L586.6 459.6 L586.8 457.7 L588.2 456.8 L589.8 454.8 L591.5 453.1 L589.8 453.1 L589.2 453.6 L586.2 455.6 L584.3 455.8 L581.6 455.5 L578.4 455.5 L576.7 457.1 L574.4 460.5 L576.7 461.2 L577.3 462.1 L576.7 464.0 L576.4 465.7 L575.4 466.7 L573.1 469.4 L571.8 469.9 L570.1 470.3 L569.5 471.5 L568.5 472.9 L569.5 474.6 L569.4 475.8 L567.8 476.1 L567.4 476.3 L567.5 473.9 L566.7 473.8 L566.5 472.5 L564.2 472.0 L564.6 471.5 L563.9 471.3 L562.3 472.8 L561.9 473.6 L562.9 474.3 L564.9 474.1 L563.6 475.2 L562.7 476.3 L563.6 477.8 L564.5 478.9 L564.2 480.6 L562.9 482.8 L560.9 484.5 L559.0 485.0 L557.0 486.2 L556.5 485.5 L555.4 485.5 L554.4 486.6 L553.9 487.2 L554.7 488.7 L556.0 489.7 L556.2 491.9 L555.4 492.6 L553.5 494.1 L553.3 493.1 L552.1 492.5 L550.8 491.5 L550.1 490.9 L549.6 492.9 L550.3 494.4 L550.9 495.3 L552.3 496.8 L552.9 499.0 L551.0 498.0 L550.3 496.4 L549.0 494.7 L549.1 492.9 L548.7 490.1 L548.5 488.9 L546.5 489.3 L546.3 487.4 L545.0 486.1 L544.8 485.5 L543.9 484.8 L542.7 485.5 L541.6 485.7 L541.2 486.6 L540.1 487.1 L538.5 488.9 L537.2 489.3 L537.1 491.1 L536.8 493.1 L535.3 494.6 L534.7 494.0 L533.5 491.4 L532.6 489.3 L532.2 487.0 L532.1 485.7 L530.7 485.9 L529.6 485.0 L528.7 483.9 L528.1 482.8 L524.8 483.0 L522.0 482.6 L521.5 481.7 L520.3 482.0 L518.2 481.1 L517.3 479.4 L516.3 479.6 L515.9 480.1 L516.5 481.3 L517.3 482.3 L517.8 483.2 L518.3 483.6 L519.9 483.7 L521.2 483.2 L521.5 482.3 L522.2 483.9 L523.7 484.8 L522.8 486.2 L522.4 487.2 L520.8 488.1 L518.8 489.0 L516.7 490.1 L514.3 491.2 L513.0 491.5 L512.5 490.1 L512.4 488.7 L511.2 486.8 L510.1 485.4 L509.5 483.8 L508.4 482.5 L507.4 481.0 L507.1 479.9 L506.9 478.6 L507.4 477.5 L508.0 475.7 L508.2 474.7 L507.1 474.6 L505.8 475.1 L504.4 474.9 L502.9 474.6 L502.3 473.7 L501.7 472.6 L501.6 471.9 L500.2 471.5 L499.4 471.7 L499.8 473.5 L499.2 474.9 L498.5 474.4 L498.2 473.3 L497.2 472.0 L497.1 470.7 L496.6 470.2 L494.6 468.8 L493.6 467.9 L493.4 467.6 L492.5 467.9 L492.6 469.0 L493.6 470.2 L494.9 471.0 L496.6 472.0 L495.6 472.9 L495.3 473.7 L494.7 473.7 L494.7 472.1 L493.6 471.5 L492.4 470.7 L491.3 469.8 L491.1 469.0 L490.2 468.6 L489.3 469.1 L488.3 469.7 L487.2 469.4 L486.4 469.8 L486.5 470.6 L484.9 471.3 L484.4 472.3 L484.1 473.3 L483.9 474.0 L483.0 474.6 L481.4 474.6 L480.7 475.2 L480.3 474.6 L479.5 474.3 L478.6 474.4Z M480.7 463.9 L482.4 463.5 L485.3 463.0 L485.5 461.6 L484.5 460.9 L484.1 460.0 L483.3 459.0 L483.1 457.7 L483.2 457.2 L482.1 456.2 L481.1 456.2 L480.3 457.9 L480.8 459.1 L481.4 459.8 L482.3 459.7 L482.1 461.0 L481.3 461.6 L481.6 462.6Z M480.5 462.1 L480.3 460.6 L480.8 459.8 L479.5 459.4 L477.8 460.3 L477.8 462.3 L479.1 462.7Z M469.9 450.8 L468.6 449.2 L469.9 448.2 L473.9 448.1 L475.5 449.7 L474.5 450.6 L471.9 451.4Z M491.6 433.2 L495.6 435.8 L500.8 434.8 L502.1 432.7 L498.9 430.7 L494.9 431.0 L491.6 431.7Z M518.6 442.4 L521.8 443.4 L521.2 441.1 L523.2 438.6 L527.1 436.4 L529.4 435.3 L526.4 435.3 L522.5 437.3 L519.9 439.2Z M546.8 432.4 L551.4 431.8 L552.7 432.7 L550.1 433.9 L547.5 432.7Z M574.4 437.3 L577.7 439.4 L582.3 437.7 L576.4 436.5Z M576.4 470.9 L577.4 470.1 L580.0 469.5 L579.0 468.8 L577.7 467.8 L577.2 469.5 L576.4 470.3Z M570.4 476.6 L571.5 475.6 L573.4 475.5 L574.3 474.3 L576.1 473.4 L576.4 472.0 L577.3 471.1 L577.7 472.4 L577.0 474.4 L576.9 475.4 L576.2 475.8 L575.4 476.1 L574.4 476.2 L573.3 477.0 L571.8 476.6 L570.5 476.7Z M569.7 477.0 L570.9 477.1 L570.7 478.6 L569.9 478.7Z M563.3 484.5 L563.9 483.0 L564.6 483.1 L563.9 485.2Z M555.8 487.0 L557.0 486.5 L557.3 486.8 L556.4 487.8 L555.8 487.6Z M563.2 487.6 L564.7 487.6 L564.6 488.9 L565.9 490.7 L564.9 490.9 L563.8 490.5 L563.4 489.3Z M564.6 495.2 L567.2 495.7 L567.5 493.9 L566.5 493.4 L565.5 494.2Z M564.6 492.1 L566.0 491.6 L566.9 492.6 L566.2 493.3 L564.9 493.4Z M547.0 496.2 L548.5 496.4 L550.3 498.3 L552.7 500.5 L554.0 502.0 L553.9 503.7 L553.1 503.7 L551.6 502.5 L550.4 500.8 L549.2 498.7Z M553.5 504.3 L554.4 503.8 L555.6 504.0 L557.3 504.1 L558.4 504.4 L559.7 505.0 L559.6 505.6 L557.3 505.2 L555.5 505.0 L554.0 504.7Z M556.4 498.8 L557.3 498.8 L558.6 497.8 L560.3 496.4 L561.4 495.2 L562.7 496.4 L561.9 496.9 L561.7 498.5 L562.6 499.2 L561.6 500.2 L560.9 501.5 L560.6 502.3 L558.6 502.0 L557.3 501.8 L556.8 501.0 L556.0 499.5Z M562.9 503.5 L563.6 503.5 L563.6 501.8 L563.9 501.2 L564.7 500.6 L565.4 500.4 L564.2 500.3 L563.4 499.5 L566.4 498.9 L566.5 499.1 L563.6 499.8 L563.1 499.9 L562.6 502.1Z M570.5 500.7 L572.4 500.4 L574.7 500.8 L577.0 501.6 L579.7 502.7 L581.3 503.9 L581.3 505.1 L583.0 506.6 L581.0 506.5 L579.0 504.9 L577.0 505.8 L575.7 505.2 L574.9 503.3 L573.1 502.7 L571.8 502.5 L571.1 501.7Z M560.0 505.2 L562.6 505.3 L565.2 505.2 L567.8 505.3 L567.8 505.8 L565.2 506.6 L562.6 505.9 L560.0 505.6Z M536.8 495.9 L536.9 494.3 L537.2 493.4 L538.2 494.9 L537.9 495.8 L537.3 496.0Z M559.0 514.5 L559.3 517.7 L560.0 520.1 L560.0 522.8 L561.6 523.9 L563.2 523.1 L565.5 523.0 L567.2 521.8 L570.5 521.2 L572.6 522.2 L573.6 523.6 L574.9 522.2 L575.1 524.2 L576.4 525.7 L578.7 526.7 L580.5 526.9 L581.6 525.9 L583.0 525.7 L583.5 523.4 L584.6 521.6 L585.3 519.1 L584.9 516.9 L583.5 515.1 L582.3 513.5 L580.5 512.3 L579.9 509.8 L578.7 509.1 L578.0 507.0 L577.4 508.3 L577.4 510.8 L576.7 511.5 L575.7 511.1 L574.1 510.1 L574.3 508.0 L573.1 507.9 L571.5 507.4 L570.0 508.1 L569.5 509.8 L568.2 509.1 L566.9 509.4 L565.4 510.8 L564.7 511.8 L563.9 512.8 L562.3 513.4 L560.9 513.6 L559.6 514.4Z M579.4 528.1 L581.8 528.3 L581.6 530.1 L580.7 530.4 L579.8 529.3Z M597.9 523.3 L599.0 524.9 L600.0 525.7 L601.7 525.8 L600.7 527.0 L600.6 527.7 L599.5 528.8 L599.1 528.5 L599.4 527.2 L598.6 527.0 L599.1 525.9 L598.1 523.9Z M597.9 528.0 L598.9 528.5 L598.2 529.8 L597.7 530.6 L596.7 531.1 L596.4 532.4 L595.0 532.8 L593.8 532.4 L594.1 531.4 L596.4 529.9 L597.4 528.8Z M428.6 485.2 L430.5 484.4 L431.8 484.5 L433.8 485.7 L435.7 486.4 L433.4 486.6 L432.8 485.5 L430.9 485.0Z M435.5 487.6 L436.6 486.6 L438.4 486.8 L439.5 487.5 L438.4 487.8 L437.4 488.2 L435.7 487.8Z M445.4 466.0 L447.9 466.1 L449.6 466.8 L449.7 465.3 L447.9 464.2 L447.7 462.7 L446.6 462.9 L445.4 465.4Z M577.7 467.3 L578.7 466.9 L578.4 464.4 L579.3 464.6 L578.5 462.3 L578.4 460.2 L577.9 460.9 L577.6 463.1 L577.7 465.7Z" fill="#e4e5ea" stroke="#e4e5ea" stroke-width=".3" stroke-linejoin="round"/><path d="M502.8 471.1 L503.2 469.4 L503.8 468.2 L504.6 466.9 L505.4 466.9 L506.4 467.3 L505.8 467.8 L506.4 468.6 L507.7 467.9 L508.7 467.9 L510.0 466.4 L509.4 467.3 L509.0 468.4 L510.4 469.4 L511.7 470.9 L510.0 471.3 L508.1 470.8 L506.1 470.6 L504.8 471.2 L503.5 471.2Z M515.3 468.2 L516.7 466.9 L518.2 466.5 L519.2 466.9 L519.2 467.9 L518.1 468.6 L519.1 470.6 L519.9 471.4 L519.2 472.5 L519.9 474.1 L517.9 474.6 L516.9 474.0 L516.8 472.0 L517.4 471.9 L516.1 470.6 L515.6 469.8Z" fill="#fff"/><path d="M403.6 464.8 L422.0 464.8 L425.9 465.7 L429.2 466.9 L430.2 468.2 L430.2 470.6 L432.5 469.8 L434.5 469.0 L437.8 468.2 L440.1 467.8 L440.4 466.3 M391.8 454.8 L391.8 444.5 M407.5 477.8 L411.5 478.6 L413.4 478.6 L414.4 478.3 L416.1 479.9 L418.0 479.8 L419.0 481.3 L420.5 482.5 M391.8 454.8 L422.6 454.8 M412.1 464.8 L412.1 454.8 M405.6 464.8 L405.6 454.8 M417.4 464.8 L417.4 454.8 M432.2 467.3 L432.2 462.7 M445.0 496.6 L442.4 497.2 L440.4 498.9 L438.4 499.2 L438.7 502.5 L436.4 504.8 L438.1 507.1 L441.4 506.4 L445.0 508.8 L446.3 510.8 L446.3 513.1 L448.3 514.9 L448.6 516.9 L446.6 520.1 L449.3 522.8 M439.1 514.5 L439.7 516.6 L438.4 522.3 L437.8 527.6 L437.1 532.4 L436.8 535.7 L439.1 537.4 M435.1 500.2 L438.4 502.5 L436.4 504.8 M439.1 507.1 L439.1 511.5 L443.7 513.1 L446.3 513.1 M443.7 513.1 L443.7 514.5 L440.4 514.9 M440.4 498.9 L440.4 495.9 L437.1 495.2 L436.8 492.3 M478.7 481.2 L481.2 483.1 L487.0 487.2 L492.3 484.1 L500.2 486.6 L500.2 478.5 M500.8 485.2 L508.6 485.2 M473.2 485.7 L475.9 485.7 L475.9 481.2 L478.7 481.2 M484.4 489.9 L494.3 490.6 L500.2 493.3 L506.7 493.9 M476.5 491.6 L481.1 493.3 L487.0 492.6 L494.3 494.6 M490.3 498.5 L494.9 498.5 L496.2 497.2 L502.1 496.6 L504.8 497.6 L506.7 497.2 L511.3 497.2 M492.3 503.1 L504.1 505.1 L510.7 506.4 M492.3 511.1 L500.8 511.5 L506.1 511.1 M497.5 514.5 L497.5 516.6 L500.8 516.9 L505.4 517.3 M490.3 477.4 L491.6 478.8 L491.0 483.1 L492.3 484.1 M500.2 486.6 L500.2 493.3 M506.7 493.9 L506.7 497.2 L511.3 501.0 M504.1 500.5 L504.1 505.1 M500.8 503.1 L500.8 511.5 M485.7 463.1 L488.3 464.4 L489.3 466.0 L491.0 466.1 L492.9 465.3 L494.3 463.1 L493.7 460.6 M483.2 469.4 L486.4 470.2 M479.8 470.6 L479.5 474.0 M488.7 467.3 L491.3 466.7 L493.4 466.9 M500.2 462.3 L499.8 460.5 M502.8 458.7 L505.4 462.3 L510.7 464.4 L509.4 466.5 M496.9 465.3 L499.2 465.7 L501.8 465.5 L503.8 467.8 M498.9 469.0 L503.1 469.4 M493.9 463.1 L495.6 464.4 L496.9 465.3 M494.9 466.9 L496.9 467.5 L499.2 468.6 M500.2 457.4 L502.8 457.3 L502.8 455.3 M498.5 458.8 L502.1 459.1 L502.8 458.7 M492.3 455.8 L492.6 453.9 L492.9 450.8 L496.2 445.9 L497.5 445.3 M503.1 445.3 L503.8 453.4 M517.2 462.7 L523.8 463.1 L530.4 459.6 L537.0 463.1 L541.6 464.8 M541.6 464.8 L548.8 462.3 L555.4 464.0 L561.3 464.2 L563.2 466.9 L557.3 470.2 L553.4 470.9 L547.5 470.0 L543.5 467.8 L541.6 464.8 M563.2 461.8 L567.8 464.4 L573.1 465.3 L570.5 469.8 L570.1 470.2 M533.0 474.4 L535.6 475.5 L537.0 477.4 L536.3 479.0 L537.6 479.6 L542.2 481.1 L544.8 481.0 L548.1 481.0 L549.1 483.4 L550.8 485.5 L554.0 484.7 L555.4 485.5 M533.0 474.4 L533.7 472.5 L537.0 470.6 L541.6 464.8 M533.3 474.4 L533.0 478.1 L531.0 481.0 L529.4 483.9 M513.3 472.5 L515.9 473.3 L519.5 474.2 L524.5 474.8 L524.5 478.5 L525.1 481.0 L524.8 483.0 M510.0 477.9 L515.0 480.3 L515.9 480.1 M508.1 475.2 L512.0 474.3 L513.6 474.3 M517.2 467.8 L521.2 468.2 L522.8 467.8 L525.1 469.4 L527.8 469.9 L530.4 470.9 L533.0 469.8 L537.0 470.6 M524.5 474.8 L528.4 474.2 L531.7 474.6 L533.3 474.4 M524.5 478.5 L528.1 479.9 L530.1 478.8 L531.0 476.6 L533.0 474.6 M549.1 483.4 L548.8 489.3 L549.4 493.1 M550.8 485.5 L553.4 487.9 L554.7 490.3 L554.0 492.6 M510.7 478.1 L513.3 480.3 L515.9 481.0 M518.6 487.2 L520.5 485.2 L521.2 483.8 M513.6 474.3 L514.6 477.4 L515.6 479.6 M508.1 477.4 L509.7 479.6 L512.7 480.6 L517.2 483.4 M514.0 472.9 L510.7 471.3 L515.0 470.9 L516.9 471.7 M569.2 509.8 L569.2 521.4 M575.1 510.8 L575.1 517.3 L577.0 517.3 L577.0 526.0 M569.2 517.3 L577.0 517.3 M577.0 519.4 L584.9 519.1 M577.0 523.1 L583.0 525.7 M577.0 501.6 L577.0 505.8 M550.1 499.2 L552.7 499.0" fill="none" stroke="#fff" stroke-width=".35" stroke-linejoin="round" opacity=".85"/><circle cx="551.7" cy="476.6" r="2.3" fill="#3c4350" stroke="#6b7280" stroke-width=".3"/><circle cx="449.6" cy="510.4" r="2.5" fill="#0a0aff" stroke="#5a5aff" stroke-width=".4"/><circle cx="381.2" cy="422.5" r="2.8" fill="#3a3f48"/><path d="M380.1 422.5h2.2 M381.2 421.4v2.2" stroke="#f4f4f4" stroke-width=".45"/><circle cx="381.2" cy="429.9" r="2.8" fill="#3a3f48"/><path d="M380.1 429.9h2.2" stroke="#d8d8d8" stroke-width=".45"/></svg>
<div class="t  sb" style="left:635.00px;top:398px;font-size:6.6px;">Onboarding Progress</div>
<div class="a" style="left:742.3px;top:396px;width:38.700000000000045px;height:10.699999999999989px;border:.6px solid #e6e8ee;border-radius:2.5px;background:#fff"></div>
<div class="t " style="left:747.70px;top:400px;font-size:5.7px;transform:scaleX(0.9298);transform-origin:0 0;color:#5d6173">Weekly</div>
<svg class="a" style="left:769.30px;top:399.15px" width="4.8" height="4.4" viewBox="0 0 4.8 4.4"><path d="M.5 1.3L2.4 3.1 4.3 1.3" fill="none" stroke="#4a4e60" stroke-width=".7" stroke-linecap="round" stroke-linejoin="round"/></svg>
<div class="t " style="right:157.00px;top:418px;font-size:5.0px;color:#3d3f52">80</div>
<div class="t " style="right:157.00px;top:438px;font-size:5.0px;color:#3d3f52">60</div>
<div class="t " style="right:157.00px;top:458px;font-size:5.0px;color:#3d3f52">40</div>
<div class="t " style="right:157.00px;top:479px;font-size:5.0px;color:#3d3f52">20</div>
<div class="t " style="right:157.00px;top:499px;font-size:5.0px;color:#3d3f52">0</div>
<div class="a" style="left:651.70px;top:419.5px;width:4px;height:82.5px;border-radius:2px;background:#eef0f6"></div>
<div class="a" style="left:651.70px;top:457.17px;width:4px;height:44.83px;border-radius:2px;background:#5a8ab3"></div>
<div class="t " style="left:553.70px;width:200px;text-align:center;top:508px;font-size:5.4px;transform:scaleX(0.9259);transform-origin:50% 0;color:#3d3f52">S</div>
<div class="a" style="left:671.70px;top:419.5px;width:4px;height:82.5px;border-radius:2px;background:#eef0f6"></div>
<div class="a" style="left:671.70px;top:445.94px;width:4px;height:56.06px;border-radius:2px;background:#5a8ab3"></div>
<div class="t " style="left:573.70px;width:200px;text-align:center;top:508px;font-size:5.4px;transform:scaleX(0.9259);transform-origin:50% 0;color:#3d3f52">M</div>
<div class="a" style="left:691.70px;top:419.5px;width:4px;height:82.5px;border-radius:2px;background:#eef0f6"></div>
<div class="a" style="left:691.70px;top:460.24px;width:4px;height:41.76px;border-radius:2px;background:#5a8ab3"></div>
<div class="t " style="left:593.70px;width:200px;text-align:center;top:508px;font-size:5.4px;transform:scaleX(0.9259);transform-origin:50% 0;color:#3d3f52">T</div>
<div class="a" style="left:711.70px;top:419.5px;width:4px;height:82.5px;border-radius:2px;background:#eef0f6"></div>
<div class="a" style="left:711.70px;top:433.68px;width:4px;height:68.32px;border-radius:2px;background:#5a8ab3"></div>
<div class="t " style="left:613.70px;width:200px;text-align:center;top:508px;font-size:5.4px;transform:scaleX(0.9259);transform-origin:50% 0;color:#3d3f52">W</div>
<div class="a" style="left:731.70px;top:419.5px;width:4px;height:82.5px;border-radius:2px;background:#eef0f6"></div>
<div class="a" style="left:731.70px;top:479.64px;width:4px;height:22.36px;border-radius:2px;background:#5a8ab3"></div>
<div class="t " style="left:633.70px;width:200px;text-align:center;top:508px;font-size:5.4px;transform:scaleX(0.9259);transform-origin:50% 0;color:#3d3f52">T</div>
<div class="a" style="left:751.70px;top:419.5px;width:4px;height:82.5px;border-radius:2px;background:#eef0f6"></div>
<div class="a" style="left:751.70px;top:458.19px;width:4px;height:43.81px;border-radius:2px;background:#5a8ab3"></div>
<div class="t " style="left:653.70px;width:200px;text-align:center;top:508px;font-size:5.4px;transform:scaleX(0.9259);transform-origin:50% 0;color:#3d3f52">F</div>
<div class="a" style="left:771.70px;top:419.5px;width:4px;height:82.5px;border-radius:2px;background:#eef0f6"></div>
<div class="a" style="left:771.70px;top:480.66px;width:4px;height:21.34px;border-radius:2px;background:#5a8ab3"></div>
<div class="t " style="left:673.70px;width:200px;text-align:center;top:508px;font-size:5.4px;transform:scaleX(0.9259);transform-origin:50% 0;color:#3d3f52">S</div>
<div class="t " style="left:635.60px;top:530px;font-size:6.5px;transform:scaleX(0.9308);transform-origin:0 0;color:#72778a">Profiles Created</div>
<div class="t " style="left:711.00px;top:530px;font-size:6.5px;transform:scaleX(0.9231);transform-origin:0 0;color:#72778a">Tasks Completed</div>
<div class="t B" style="left:635.00px;top:544px;font-size:7.6px;transform:scaleX(0.9211);transform-origin:0 0;color:#2b2c3a">28</div>
<div class="a" style="left:646px;top:543px;width:16.5px;height:9.5px;border-radius:1.8px;background:#e5f7ed;border:.5px solid #bfe9cf"></div>
<div class="t " style="left:554.25px;width:200px;text-align:center;top:546px;font-size:5.0px;transform:scaleX(0.9200);transform-origin:50% 0;color:#2fb36b">85%</div>
<div class="t B" style="left:711.00px;top:544px;font-size:7.6px;transform:scaleX(0.9211);transform-origin:0 0;color:#2b2c3a">60</div>
<div class="a" style="left:721.7px;top:543px;width:16px;height:9.5px;border-radius:1.8px;background:#e9f0ff;border:.5px solid #cddcfb"></div>
<div class="t " style="left:629.70px;width:200px;text-align:center;top:546px;font-size:5.0px;transform:scaleX(0.9200);transform-origin:50% 0;color:#4d7fe0">75%</div>
</body></html>
